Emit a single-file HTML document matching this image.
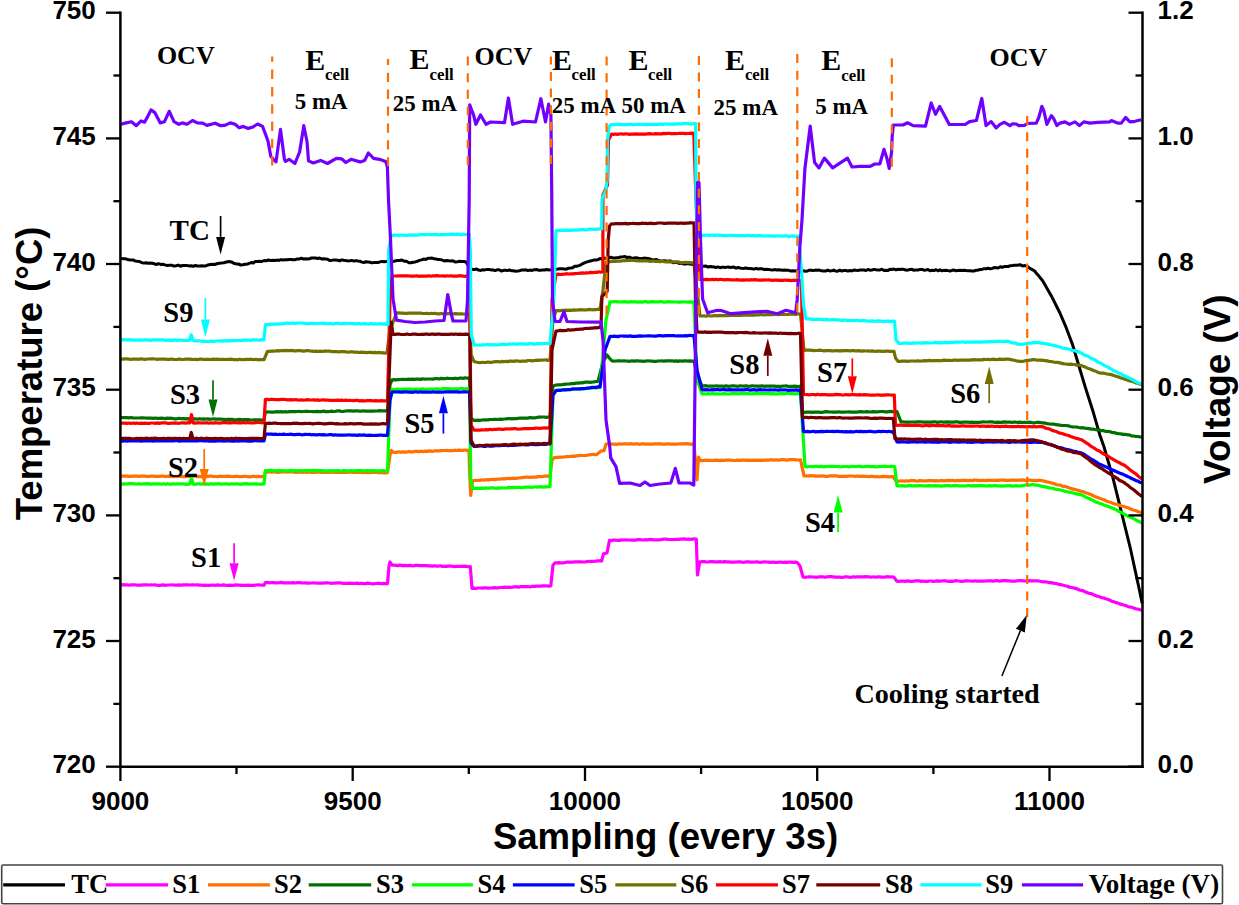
<!DOCTYPE html>
<html><head><meta charset="utf-8"><style>
html,body{margin:0;padding:0;background:#fff;}
body{width:1239px;height:905px;overflow:hidden;font-family:"Liberation Sans",sans-serif;}
svg{display:block;}
</style></head><body>
<svg width="1239" height="905" viewBox="0 0 1239 905">
<rect width="1239" height="905" fill="#ffffff"/>
<polyline points="121.0,258.6 123.5,258.7 126.0,258.8 128.4,259.8 130.9,259.9 133.1,259.9 135.2,261.0 137.4,261.3 139.5,261.5 141.7,262.6 143.8,263.1 145.9,262.7 148.0,263.3 150.1,263.0 152.2,263.2 154.3,263.8 156.4,264.5 158.5,263.7 160.6,264.4 162.8,264.2 165.0,264.9 167.2,265.5 169.5,265.2 171.7,265.2 173.9,266.1 176.1,265.7 178.2,265.1 180.4,266.2 182.6,265.5 184.7,265.4 186.8,265.4 189.0,265.9 191.1,265.7 193.2,266.3 195.3,265.5 197.4,266.0 199.5,266.1 201.6,265.7 203.7,266.0 205.8,265.9 208.0,264.9 210.2,264.5 212.4,264.3 214.7,264.5 216.9,263.8 219.1,263.3 221.3,263.1 223.9,262.7 226.5,262.0 229.1,261.5 231.4,261.9 233.7,263.3 236.1,263.9 238.4,264.0 240.7,265.0 242.8,264.7 244.9,264.2 247.0,264.2 249.1,263.5 251.2,262.5 253.3,263.0 255.4,261.4 257.5,261.5 259.7,261.2 261.9,261.5 264.1,260.5 266.4,260.7 268.6,260.0 270.8,260.6 273.0,260.2 275.0,260.5 277.0,260.1 279.1,260.4 281.1,259.6 283.1,260.0 285.1,259.8 287.2,259.7 289.2,259.4 291.2,259.4 293.2,259.7 295.2,259.7 297.3,259.0 299.3,259.1 301.3,258.2 303.4,259.0 305.4,258.8 307.4,259.1 309.4,258.8 311.4,258.0 313.5,258.0 315.5,258.0 317.5,258.5 319.5,258.0 321.5,258.9 323.6,258.8 325.6,259.0 327.6,259.2 329.6,260.4 331.6,260.4 333.6,259.9 335.6,260.1 337.7,260.3 339.7,260.9 341.7,259.9 343.7,260.3 345.7,260.5 347.8,260.9 349.8,260.8 351.8,260.4 353.8,261.1 355.8,260.6 357.9,261.0 359.9,261.2 361.9,262.1 363.9,262.5 365.9,261.7 368.0,262.0 370.0,262.3 372.0,262.9 374.0,262.4 376.0,262.5 378.0,262.5 380.1,261.9 382.1,261.4 384.1,261.7 386.1,261.5 388.1,261.5 390.4,261.4 392.7,261.6 395.0,261.0 397.2,260.6 399.5,260.5 401.8,260.1 404.2,261.2 406.5,261.3 408.9,262.7 411.0,262.8 413.1,262.2 415.3,261.9 417.4,261.3 419.5,260.4 421.6,259.9 423.7,259.1 425.9,259.4 428.0,258.2 430.1,258.3 432.1,258.1 434.1,258.7 436.1,259.0 438.2,259.6 440.2,259.6 442.2,260.0 444.2,261.0 446.4,260.6 448.6,260.7 450.7,261.1 452.9,260.7 455.1,261.9 457.3,261.7 459.5,261.2 461.6,261.4 463.8,261.6 466.0,261.9 470.0,268.5 472.5,269.5 474.5,269.4 476.6,269.1 478.6,270.1 480.7,270.4 482.7,269.8 484.8,269.9 486.8,269.4 488.9,269.5 490.9,269.9 493.0,269.8 495.0,270.6 497.1,269.8 499.1,269.7 501.2,271.0 503.2,270.5 505.3,270.1 507.3,270.6 509.4,270.0 511.4,270.7 513.5,270.7 515.6,271.2 517.6,271.0 519.7,270.7 521.8,270.0 523.9,270.1 525.9,269.8 528.0,270.5 530.1,270.1 532.2,270.4 534.2,269.7 536.3,269.5 538.4,270.2 540.5,270.3 542.5,270.1 544.6,270.0 546.7,269.5 548.9,269.9 551.1,269.7 553.3,269.0 555.5,269.4 557.7,269.1 559.9,268.7 562.1,268.7 564.3,268.9 566.5,269.2 568.6,268.2 570.6,268.0 572.7,267.7 574.8,266.3 576.8,266.2 578.9,265.6 580.9,264.8 583.0,263.5 585.1,262.7 587.2,261.9 589.4,261.3 591.5,260.7 593.6,260.1 595.8,260.0 597.9,259.7 600.0,258.6 602.1,258.9 604.2,258.2 606.3,258.3 608.4,258.3 610.5,257.2 612.5,257.8 614.6,258.0 616.7,257.7 618.8,257.5 620.9,256.9 623.0,256.8 625.1,256.6 627.2,257.5 629.2,257.1 631.3,257.9 633.4,258.3 635.5,257.7 637.5,257.9 639.6,258.7 641.7,258.6 643.8,258.1 645.8,258.2 647.9,258.4 650.0,259.0 652.1,259.8 654.2,260.0 656.3,259.4 658.3,260.5 660.4,261.0 662.5,260.9 664.6,260.7 666.7,261.3 668.8,261.0 670.9,261.1 672.9,262.7 675.0,262.5 677.1,262.6 679.2,263.4 681.3,263.1 683.4,263.9 685.5,264.1 687.5,263.6 689.6,263.9 691.7,264.3 693.8,264.8 695.8,264.8 697.9,265.7 700.0,265.6 702.0,266.3 704.0,266.3 706.0,266.0 708.0,267.1 710.0,266.5 712.0,266.7 714.0,267.0 716.0,267.5 718.0,266.9 720.0,267.7 722.0,267.2 724.0,267.3 726.0,267.4 728.0,266.9 730.0,267.5 732.0,267.3 734.0,267.1 736.0,268.2 738.0,267.5 740.0,268.0 742.0,268.4 744.0,268.3 746.0,268.1 748.0,268.4 750.0,268.5 752.0,268.7 754.1,269.1 756.1,268.3 758.2,269.0 760.2,268.7 762.3,268.8 764.3,269.5 766.3,269.3 768.4,269.4 770.4,269.8 772.5,270.1 774.5,269.6 776.6,269.9 778.6,269.8 780.7,270.0 782.7,270.3 784.7,270.1 786.8,270.3 788.8,270.3 790.9,271.0 792.9,270.8 795.0,271.1 797.0,270.7 799.0,271.3 801.1,270.4 803.1,270.8 805.2,271.2 807.2,271.1 809.2,270.2 811.3,270.2 813.3,270.6 815.3,270.1 817.4,270.3 819.4,270.1 821.5,270.8 823.5,271.0 825.5,271.1 827.6,270.1 829.6,270.9 831.7,270.8 833.7,270.1 835.7,271.1 837.8,271.2 839.8,270.2 841.8,271.1 843.9,270.4 845.9,270.5 848.0,271.1 850.0,270.5 852.0,270.9 854.0,270.0 856.0,270.3 858.0,270.4 860.0,270.1 862.0,269.9 864.0,270.0 866.0,270.5 868.0,269.5 870.0,270.2 872.0,270.0 874.0,269.4 876.0,269.8 878.0,270.1 880.0,269.9 882.0,269.3 884.0,270.5 886.0,270.2 888.0,270.4 890.0,269.2 892.0,269.4 894.0,269.0 896.0,269.9 898.0,269.2 900.0,269.5 902.0,269.1 904.0,269.5 906.0,270.2 908.0,270.1 910.0,269.4 912.0,269.3 914.0,270.3 916.0,269.9 918.0,270.1 920.0,269.4 922.0,269.4 924.0,270.2 926.0,269.9 928.0,269.5 930.0,270.7 932.0,270.3 934.0,270.6 936.0,269.7 938.0,270.8 940.0,269.8 942.0,270.8 944.0,270.4 946.0,270.2 948.0,270.6 950.0,271.1 952.0,270.3 954.0,270.1 956.0,270.7 958.0,270.4 960.0,270.2 962.0,270.4 964.0,270.2 966.0,270.5 968.0,270.7 970.0,270.7 972.0,271.0 974.0,271.1 976.0,270.2 978.1,270.2 980.1,269.5 982.1,269.4 984.1,268.7 986.1,268.8 988.2,268.2 990.2,268.9 992.2,268.4 994.2,267.6 996.2,267.7 998.2,268.0 1000.3,266.7 1002.3,267.3 1004.3,266.6 1006.3,266.4 1008.3,266.5 1010.4,265.7 1012.4,265.6 1014.4,265.3 1017.2,265.2 1020.0,264.7 1022.5,265.9 1024.9,265.6 1027.4,266.4 1029.8,268.4 1032.3,269.7 1034.7,271.0 1036.8,273.8 1038.9,276.1 1041.0,278.7 1043.1,281.5 1051.5,296.2 1059.9,313.0 1066.2,327.7 1072.5,344.5 1078.8,365.5 1085.1,386.6 1092.5,409.7 1099.8,434.9 1103.9,446.5 1112.8,477.4 1121.6,512.8 1130.4,548.5 1139.3,589.5 1142.2,603.5" fill="none" stroke="#000000" stroke-width="3.00" stroke-linejoin="round" stroke-linecap="butt"/>
<polyline points="121.0,585.0 123.0,584.7 125.0,584.8 127.0,584.8 129.1,585.2 131.1,584.9 133.1,584.8 135.1,584.8 137.1,585.2 139.1,585.2 141.1,585.1 143.2,584.9 145.2,584.9 147.2,584.9 149.2,585.0 151.2,584.8 153.2,585.0 155.2,584.9 157.3,585.3 159.3,585.3 161.3,585.1 163.3,584.9 165.3,585.3 167.3,585.0 169.3,585.0 171.4,584.8 173.4,585.0 175.4,585.1 177.4,585.1 179.4,584.9 181.4,585.1 183.4,584.8 185.5,584.9 187.5,584.8 189.5,585.0 191.5,584.8 193.5,584.8 195.5,585.0 197.5,584.9 199.5,585.2 201.6,585.1 203.6,585.3 205.6,585.2 207.6,585.3 209.6,585.4 211.6,585.1 213.6,585.0 215.7,585.4 217.7,584.9 219.7,585.3 221.7,585.2 223.7,584.9 225.7,585.3 227.7,585.4 229.8,585.2 231.8,585.3 233.8,585.3 235.8,584.9 237.8,585.2 239.8,585.2 241.8,585.4 243.9,585.4 245.9,585.4 247.9,585.2 249.9,585.4 251.9,585.3 253.9,585.3 255.9,585.0 258.0,584.9 260.0,585.0 262.0,585.1 264.0,585.2 265.4,582.6 267.4,582.4 269.4,582.8 271.4,582.7 273.4,582.7 275.4,582.8 277.4,582.8 279.4,582.7 281.4,582.4 283.4,582.9 285.4,582.9 287.4,582.8 289.4,582.8 291.4,582.9 293.4,582.6 295.4,583.0 297.4,582.7 299.4,582.6 301.4,582.8 303.4,583.0 305.4,582.8 307.4,583.1 309.4,583.2 311.4,583.0 313.4,582.9 315.4,583.0 317.4,583.1 319.4,583.2 321.4,583.1 323.4,583.2 325.4,582.8 327.5,582.9 329.5,583.0 331.5,583.3 333.5,583.0 335.5,583.2 337.5,582.9 339.5,582.9 341.5,583.1 343.5,583.3 345.5,583.4 347.5,583.4 349.5,583.2 351.5,583.3 353.5,583.3 355.5,583.3 357.5,583.1 359.5,583.6 361.5,583.2 363.5,583.7 365.5,583.7 367.5,583.1 369.5,583.4 371.5,583.7 373.5,583.8 375.5,583.5 377.5,583.4 379.5,583.4 381.5,583.8 383.5,583.4 385.5,583.6 387.5,583.6 389.0,566.0 390.0,562.0 392.0,565.2 394.0,565.0 396.0,565.3 398.0,565.6 400.0,565.1 402.0,565.6 404.0,565.4 406.1,565.7 408.1,565.6 410.1,565.4 412.1,565.8 414.1,565.6 416.1,565.3 418.1,565.4 420.1,565.7 422.1,565.7 424.1,565.7 426.1,565.6 428.1,565.8 430.1,565.8 432.2,566.1 434.2,565.7 436.2,566.1 438.2,566.2 440.2,565.8 442.2,566.4 444.2,566.3 446.2,566.4 448.2,566.1 450.2,566.2 452.2,566.2 454.2,566.6 456.2,566.4 458.3,566.3 460.3,566.4 462.3,566.3 464.3,566.2 466.3,566.3 468.3,566.8 470.3,566.6 472.0,588.4 474.0,588.2 476.0,588.5 478.1,588.0 480.1,588.0 482.1,588.1 484.1,587.8 486.1,587.9 488.2,588.1 490.2,588.0 492.2,587.9 494.2,587.7 496.2,587.8 498.3,587.8 500.3,587.5 502.3,587.5 504.3,587.1 506.3,587.4 508.4,587.2 510.4,587.3 512.4,587.2 514.4,586.9 516.5,586.7 518.5,587.1 520.5,586.6 522.5,586.7 524.5,586.6 526.6,586.5 528.6,586.7 530.6,586.8 532.6,586.3 534.6,586.4 536.7,586.1 538.7,586.2 540.7,586.1 542.7,585.9 544.7,585.8 546.8,585.8 548.8,586.1 550.8,585.8 553.0,565.0 555.0,562.9 557.0,562.8 559.1,562.6 561.1,562.9 563.1,562.9 565.1,562.5 567.2,562.2 569.2,562.1 571.2,562.0 573.2,562.1 575.3,561.8 577.3,561.8 579.3,561.8 581.3,561.9 583.4,562.0 585.4,561.8 587.4,561.5 589.4,561.4 591.5,561.4 593.5,561.3 595.5,561.2 597.5,560.9 599.6,560.9 601.6,561.0 603.5,553.9 607.0,553.0 609.5,540.3 611.5,540.6 613.5,540.0 615.6,540.2 617.6,540.3 619.6,540.4 621.6,539.9 623.6,540.0 625.6,539.9 627.7,540.0 629.7,540.0 631.7,540.2 633.7,540.1 635.7,540.1 637.8,539.6 639.8,539.6 641.8,539.9 643.8,540.0 645.8,539.7 647.9,539.8 649.9,539.4 651.9,539.6 653.9,539.9 655.9,539.8 657.9,539.8 660.0,539.8 662.0,539.4 664.0,539.2 666.0,539.2 668.0,539.4 670.1,539.5 672.1,539.6 674.1,539.5 676.1,539.4 678.1,539.4 680.2,539.2 682.2,539.2 684.2,538.9 686.2,539.3 688.2,539.0 690.2,539.3 692.3,539.1 694.3,538.9 696.3,539.0 697.5,575.0 699.0,566.0 700.0,561.8 702.0,561.6 704.0,561.7 706.1,561.9 708.1,562.0 710.1,561.6 712.1,561.6 714.1,561.9 716.2,561.9 718.2,561.8 720.2,561.7 722.2,562.0 724.2,561.6 726.3,561.8 728.3,561.9 730.3,562.2 732.3,562.1 734.4,562.2 736.4,562.0 738.4,561.8 740.4,561.9 742.4,562.3 744.5,562.2 746.5,561.9 748.5,561.8 750.5,562.1 752.5,562.2 754.6,562.0 756.6,561.9 758.6,562.2 760.6,562.4 762.6,562.0 764.7,561.9 766.7,562.0 768.7,562.1 770.7,562.3 772.8,562.0 774.8,562.4 776.8,562.3 778.8,562.2 780.8,562.0 782.9,562.5 784.9,562.1 786.9,562.4 788.9,562.1 790.9,562.1 793.0,562.4 795.0,562.2 797.0,562.3 800.0,566.0 803.0,577.0 805.0,577.3 807.0,577.0 809.0,576.8 811.1,576.8 813.1,577.0 815.1,577.1 817.1,577.3 819.1,576.8 821.1,576.9 823.2,576.8 825.2,577.3 827.2,576.8 829.2,576.7 831.2,576.7 833.2,576.9 835.2,577.2 837.3,577.2 839.3,577.1 841.3,577.3 843.3,577.3 845.3,576.9 847.3,576.8 849.4,577.3 851.4,577.1 853.4,576.7 855.4,577.1 857.4,576.9 859.4,576.9 861.5,576.9 863.5,576.8 865.5,576.7 867.5,576.9 869.5,576.9 871.5,577.3 873.5,576.8 875.6,577.3 877.6,576.8 879.6,576.9 881.6,577.2 883.6,577.2 885.6,577.0 887.7,576.7 889.7,577.0 891.7,576.9 893.7,577.0 897.0,581.2 899.0,581.4 901.0,581.0 903.0,581.1 905.0,581.4 907.0,580.9 909.1,581.1 911.1,581.3 913.1,581.3 915.1,580.9 917.1,580.9 919.1,580.9 921.1,581.4 923.1,581.0 925.1,581.3 927.1,581.4 929.2,581.0 931.2,581.0 933.2,581.4 935.2,581.2 937.2,580.9 939.2,581.2 941.2,581.0 943.2,580.9 945.2,580.8 947.2,581.2 949.3,581.3 951.3,581.1 953.3,581.3 955.3,580.7 957.3,580.9 959.3,581.0 961.3,581.3 963.3,581.3 965.3,580.9 967.4,580.9 969.4,581.0 971.4,581.0 973.4,581.2 975.4,580.8 977.4,581.2 979.4,581.1 981.4,581.2 983.4,581.1 985.4,581.0 987.5,580.8 989.5,580.8 991.5,580.8 993.5,581.1 995.5,580.7 997.5,580.7 999.5,581.1 1001.5,580.8 1003.5,580.6 1005.5,580.6 1007.6,580.9 1009.6,580.8 1011.6,581.2 1013.6,581.1 1015.6,581.2 1017.6,580.7 1019.6,580.6 1021.6,580.6 1023.6,580.8 1025.6,581.0 1027.7,580.8 1029.7,580.7 1031.7,580.8 1033.7,580.9 1035.7,580.9 1037.7,580.8 1039.9,581.3 1042.1,581.7 1044.3,581.9 1046.5,581.9 1048.7,582.6 1050.9,582.6 1053.1,583.1 1055.3,583.4 1057.3,583.8 1059.3,584.6 1061.3,584.7 1063.3,585.3 1065.3,585.8 1067.4,586.2 1069.4,587.2 1071.4,587.5 1073.4,587.9 1075.4,588.4 1077.4,589.0 1079.4,590.0 1081.4,590.4 1083.4,590.9 1085.4,592.0 1087.4,592.6 1089.5,593.5 1091.5,593.7 1093.5,594.6 1095.5,595.5 1097.5,596.2 1099.5,596.7 1101.5,597.6 1103.5,597.8 1105.5,598.7 1107.5,599.3 1109.5,600.0 1111.6,601.2 1113.6,601.6 1115.6,602.6 1117.6,602.9 1119.6,603.9 1121.6,604.4 1123.6,605.0 1125.7,605.5 1127.7,606.4 1129.8,607.1 1131.8,607.2 1133.8,608.1 1135.9,608.7 1137.9,609.1 1140.0,609.8 1142.0,610.5" fill="none" stroke="#ff00ff" stroke-width="3.20" stroke-linejoin="round" stroke-linecap="butt"/>
<polyline points="121.0,476.3 123.0,476.1 125.0,476.1 127.0,476.2 129.1,476.4 131.1,476.4 133.1,476.1 135.1,476.0 137.1,476.2 139.1,476.4 141.1,476.1 143.2,476.2 145.2,476.2 147.2,476.5 149.2,476.4 151.2,476.1 153.2,476.1 155.2,476.3 157.3,476.4 159.3,476.4 161.3,476.1 163.3,476.2 165.3,476.5 167.3,476.3 169.3,476.2 171.4,476.3 173.4,476.6 175.4,476.3 177.4,476.4 179.4,476.3 181.4,476.3 183.4,476.6 185.5,476.7 187.5,476.3 189.5,476.2 191.5,476.5 193.5,476.2 195.5,476.1 197.5,476.6 199.5,476.4 201.6,476.6 203.6,476.4 205.6,476.6 207.6,476.4 209.6,476.2 211.6,476.1 213.6,476.5 215.7,476.5 217.7,476.7 219.7,476.2 221.7,476.5 223.7,476.4 225.7,476.4 227.7,476.2 229.8,476.3 231.8,476.5 233.8,476.7 235.8,476.2 237.8,476.5 239.8,476.6 241.8,476.7 243.9,476.3 245.9,476.3 247.9,476.7 249.9,476.8 251.9,476.5 253.9,476.2 255.9,476.7 258.0,476.4 260.0,476.7 262.0,476.6 264.0,476.5 265.4,472.0 267.4,472.2 269.4,471.8 271.4,472.2 273.4,471.9 275.4,472.0 277.4,472.3 279.4,472.3 281.4,471.9 283.4,471.9 285.4,472.0 287.4,472.1 289.4,472.0 291.4,471.9 293.4,472.0 295.4,472.3 297.4,472.4 299.4,471.9 301.4,472.2 303.4,472.3 305.4,471.9 307.4,472.4 309.4,472.0 311.4,472.3 313.4,472.3 315.4,472.3 317.4,472.1 319.4,472.2 321.4,472.3 323.4,472.2 325.4,472.4 327.5,472.3 329.5,472.3 331.5,472.0 333.5,472.4 335.5,472.3 337.5,472.2 339.5,472.5 341.5,472.5 343.5,472.4 345.5,472.2 347.5,472.4 349.5,472.2 351.5,472.2 353.5,472.4 355.5,472.2 357.5,472.4 359.5,472.5 361.5,472.2 363.5,472.6 365.5,472.2 367.5,472.6 369.5,472.7 371.5,472.5 373.5,472.3 375.5,472.5 377.5,472.5 379.5,472.8 381.5,472.4 383.5,472.8 385.5,472.9 387.5,472.6 390.0,455.0 391.5,450.5 393.0,452.2 395.0,452.3 397.0,452.3 399.0,451.8 401.0,452.3 403.0,451.9 405.0,452.1 407.0,452.0 409.0,451.5 411.0,451.9 413.0,451.9 415.0,451.3 417.0,451.4 419.0,451.6 421.0,451.2 423.0,451.6 425.0,451.1 427.0,451.4 429.0,450.9 431.0,451.1 433.0,451.3 435.0,450.8 437.0,450.8 439.0,450.9 441.0,450.7 443.0,450.5 445.0,450.5 447.0,450.4 449.0,450.8 451.0,450.6 453.0,450.7 455.0,450.2 457.0,450.5 459.0,450.1 461.0,450.3 463.0,450.3 465.0,450.0 467.0,450.3 469.0,450.0 469.5,470.0 470.7,495.5 472.5,481.0 474.0,480.5 476.0,480.4 478.0,480.3 480.0,480.4 482.0,479.8 484.0,480.2 486.0,479.9 488.0,479.6 490.0,479.8 492.0,479.3 494.0,479.6 496.0,479.3 498.0,479.0 500.0,479.2 502.0,478.8 504.0,478.6 506.0,478.8 508.0,478.3 510.0,478.6 512.0,478.2 514.0,478.3 516.0,478.4 518.0,478.0 520.0,477.9 522.0,477.6 524.0,477.3 526.0,477.2 528.0,477.2 530.0,477.3 532.0,477.1 534.0,477.0 536.0,477.1 538.0,476.6 540.0,476.5 542.0,476.7 544.0,476.2 546.0,476.0 548.0,476.1 550.0,476.1 552.0,460.0 554.0,457.8 556.0,457.4 558.1,457.4 560.1,457.1 562.2,457.2 564.2,457.0 566.3,456.6 568.3,456.7 570.4,456.5 572.4,456.1 574.5,456.4 576.5,455.8 578.6,455.6 580.6,455.4 582.7,455.5 584.7,455.5 586.8,455.3 588.8,454.9 590.9,454.7 592.9,454.3 595.0,454.6 597.0,454.3 601.0,451.0 604.0,450.7 606.0,444.0 608.0,444.0 610.0,443.9 612.0,444.1 614.0,444.0 616.0,444.3 618.0,444.1 620.0,443.8 622.0,444.2 624.0,443.7 626.0,444.0 628.0,443.9 630.0,443.8 632.0,443.7 634.0,444.2 636.0,443.7 638.0,444.0 640.0,444.3 642.0,443.8 644.0,443.8 646.0,444.1 648.0,444.0 650.0,444.1 652.0,444.2 654.0,443.8 656.0,443.9 658.0,443.9 660.0,443.7 662.0,444.2 664.0,444.2 666.0,444.1 668.0,443.7 670.0,444.2 672.0,444.1 674.0,444.0 676.0,444.1 678.0,444.0 680.0,443.8 682.0,443.8 684.0,443.8 686.0,443.7 688.0,443.9 690.0,444.1 692.0,444.1 694.0,444.0 697.0,480.0 698.5,457.0 700.0,460.4 702.0,460.6 704.0,460.5 706.0,460.2 708.0,460.4 710.0,460.3 712.1,460.5 714.1,460.3 716.1,460.2 718.1,460.4 720.1,460.6 722.1,460.1 724.1,460.5 726.1,460.0 728.1,460.1 730.1,460.1 732.2,460.4 734.2,460.5 736.2,460.4 738.2,460.1 740.2,460.4 742.2,460.1 744.2,460.0 746.2,460.4 748.2,460.2 750.2,460.3 752.3,460.2 754.3,460.4 756.3,460.1 758.3,460.3 760.3,460.2 762.3,460.3 764.3,460.0 766.3,460.2 768.3,460.1 770.4,459.9 772.4,459.9 774.4,460.1 776.4,459.8 778.4,460.3 780.4,459.8 782.4,459.7 784.4,459.7 786.4,460.2 788.4,459.9 790.5,459.7 792.5,459.7 794.5,459.7 796.5,460.0 798.5,460.0 800.5,459.9 804.0,475.8 806.0,475.9 808.0,476.0 810.1,475.6 812.1,475.9 814.1,475.8 816.1,476.1 818.2,476.1 820.2,476.2 822.2,475.7 824.2,476.2 826.2,476.3 828.3,476.3 830.3,475.8 832.3,475.9 834.3,475.9 836.4,475.8 838.4,476.4 840.4,476.4 842.4,476.3 844.5,476.4 846.5,476.3 848.5,476.1 850.5,476.0 852.5,476.0 854.6,476.5 856.6,476.2 858.6,476.2 860.6,476.3 862.7,476.1 864.7,476.3 866.7,476.3 868.7,476.6 870.8,476.4 872.8,476.4 874.8,476.8 876.8,476.5 878.8,476.8 880.9,476.6 882.9,476.3 884.9,476.6 886.9,476.6 889.0,476.8 891.0,476.6 893.0,476.7 896.0,481.0 898.0,481.1 900.0,481.0 902.0,480.8 904.0,481.2 906.0,480.7 908.0,481.1 910.0,480.7 912.0,480.6 914.0,480.7 916.0,481.0 918.0,481.1 920.0,480.5 922.0,480.8 924.0,480.8 926.0,481.0 928.0,480.6 930.0,480.7 932.0,480.6 934.0,480.9 936.0,480.6 938.0,481.0 940.0,480.6 942.0,480.5 944.0,480.8 946.0,480.6 948.0,480.4 950.0,480.7 952.0,480.3 954.0,480.8 956.0,480.7 958.0,480.7 960.0,480.6 962.0,480.4 964.0,480.4 966.0,480.4 968.0,480.7 970.0,480.2 972.0,480.7 974.0,480.1 976.0,480.2 978.0,480.3 980.0,480.6 982.0,480.4 984.0,480.3 986.0,480.6 988.0,480.2 990.0,480.3 992.0,480.3 994.0,480.4 996.0,480.4 998.0,480.3 1000.0,480.2 1002.0,480.1 1004.0,480.0 1006.0,480.4 1008.0,480.3 1010.0,480.3 1012.0,480.0 1014.0,480.1 1016.0,480.3 1018.0,480.2 1020.0,480.1 1022.0,479.9 1024.0,480.2 1026.0,480.5 1028.0,480.2 1030.0,480.2 1032.1,480.3 1034.1,480.6 1036.1,480.7 1038.1,480.4 1040.1,480.4 1042.1,480.7 1044.1,481.1 1046.1,481.6 1048.1,482.2 1050.1,482.5 1052.1,483.1 1054.2,483.6 1056.2,484.5 1058.2,484.9 1060.2,485.0 1062.2,486.1 1064.2,486.3 1066.2,486.7 1068.2,487.4 1070.2,488.4 1072.2,488.9 1074.2,489.4 1076.3,489.9 1078.3,490.3 1080.3,491.2 1082.3,491.5 1084.3,492.1 1086.3,492.9 1088.3,493.6 1090.3,494.2 1092.3,495.2 1094.3,496.3 1096.3,497.0 1098.3,497.7 1100.3,498.6 1102.3,499.3 1104.3,499.9 1106.3,501.0 1108.3,501.7 1110.5,502.3 1112.7,503.2 1114.9,504.0 1117.2,504.4 1119.4,505.2 1121.6,506.0 1123.8,506.5 1126.0,507.2 1128.0,507.7 1130.0,508.7 1132.0,509.5 1134.0,510.2 1136.0,510.8 1138.0,511.6 1140.0,512.2 1142.0,512.8" fill="none" stroke="#ff7000" stroke-width="3.20" stroke-linejoin="round" stroke-linecap="butt"/>
<polyline points="121.0,417.6 123.0,417.7 125.0,417.6 127.0,417.6 129.1,417.8 131.1,417.5 133.1,417.8 135.1,418.0 137.1,418.0 139.1,418.0 141.1,417.8 143.2,417.9 145.2,418.0 147.2,418.1 149.2,418.0 151.2,418.2 153.2,418.4 155.2,418.0 157.3,418.3 159.3,418.4 161.3,418.2 163.3,418.3 165.3,418.6 167.3,418.1 169.3,418.4 171.4,418.2 173.4,418.6 175.4,418.8 177.4,418.6 179.4,418.3 181.4,418.7 183.4,418.7 185.5,418.8 187.5,418.7 189.5,418.8 191.5,419.0 193.5,418.8 195.5,418.8 197.5,419.2 199.5,418.7 201.6,419.1 203.6,418.9 205.6,419.2 207.6,418.8 209.6,419.4 211.6,419.0 213.6,418.9 215.7,419.1 217.7,419.2 219.7,419.0 221.7,419.2 223.7,419.3 225.7,419.5 227.7,419.3 229.8,419.3 231.8,419.3 233.8,419.6 235.8,419.8 237.8,419.6 239.8,419.4 241.8,419.8 243.9,419.6 245.9,419.5 247.9,419.5 249.9,419.9 251.9,420.0 253.9,419.9 255.9,419.8 258.0,419.9 260.0,419.8 262.0,420.2 264.0,420.0 265.4,412.0 267.4,411.9 269.4,412.0 271.4,412.1 273.4,412.1 275.4,411.9 277.4,411.7 279.4,411.9 281.4,411.6 283.4,412.0 285.4,411.7 287.4,412.0 289.4,411.6 291.4,411.6 293.4,411.6 295.4,411.6 297.4,411.5 299.4,411.3 301.4,411.7 303.4,411.5 305.4,411.4 307.4,411.4 309.4,411.5 311.4,411.5 313.4,411.6 315.4,411.6 317.4,411.4 319.4,411.7 321.4,411.6 323.4,411.1 325.4,411.6 327.5,411.6 329.5,411.5 331.5,411.1 333.5,411.5 335.5,411.3 337.5,410.9 339.5,410.9 341.5,411.5 343.5,411.3 345.5,411.0 347.5,410.9 349.5,410.9 351.5,410.9 353.5,411.2 355.5,410.9 357.5,410.8 359.5,411.2 361.5,411.2 363.5,410.8 365.5,411.2 367.5,411.0 369.5,411.1 371.5,411.0 373.5,411.1 375.5,411.0 377.5,411.0 379.5,410.6 381.5,410.9 383.5,410.8 385.5,410.9 387.5,410.7 390.0,385.0 392.0,379.8 394.0,379.7 396.1,379.9 398.1,379.7 400.2,379.5 402.2,379.4 404.2,379.3 406.3,379.5 408.3,379.2 410.4,379.4 412.4,379.1 414.4,379.3 416.5,379.2 418.5,379.2 420.6,379.4 422.6,378.8 424.6,379.2 426.7,379.0 428.7,379.0 430.8,379.0 432.8,379.1 434.8,378.7 436.9,378.7 438.9,379.0 440.9,378.4 443.0,378.7 445.0,378.7 447.1,378.2 449.1,378.5 451.1,378.5 453.2,378.6 455.2,378.2 457.3,378.6 459.3,378.2 461.3,378.2 463.4,378.4 465.4,377.8 467.5,378.2 469.5,378.0 471.0,418.0 474.0,420.4 476.0,420.4 478.0,420.1 480.0,420.3 482.0,420.0 484.0,419.9 486.0,419.9 488.0,419.9 490.0,419.5 492.0,419.5 494.0,419.4 496.0,419.4 498.0,419.5 500.0,419.1 502.0,419.3 504.0,419.0 506.0,418.9 508.0,418.7 510.0,418.7 512.0,418.9 514.0,418.7 516.0,418.6 518.0,418.3 520.0,418.2 522.0,418.1 524.0,418.1 526.0,418.1 528.0,418.1 530.0,417.5 532.0,417.9 534.0,417.9 536.0,417.6 538.0,417.2 540.0,417.2 542.0,417.0 544.0,417.0 546.0,417.3 548.0,417.1 550.0,416.9 553.0,386.0 556.0,385.0 558.0,384.9 560.0,384.8 562.0,384.7 564.0,384.4 566.0,384.2 568.0,384.0 570.0,383.9 572.0,383.7 574.0,383.6 576.0,383.1 578.0,383.2 580.0,382.9 582.0,382.9 584.0,382.4 586.0,382.2 588.0,382.0 590.0,382.3 592.0,382.2 594.0,381.8 596.0,381.5 598.0,381.4 603.0,362.0 607.0,355.0 609.5,358.2 612.0,361.0 614.0,361.2 616.0,361.0 618.0,360.9 620.0,360.9 622.0,361.0 624.0,360.9 626.0,361.0 628.0,361.1 630.0,361.3 632.0,360.8 634.0,361.1 636.0,360.8 638.0,360.8 640.0,361.2 642.0,361.1 644.0,361.3 646.0,361.0 648.0,360.8 650.0,361.0 652.0,361.1 654.0,361.3 656.0,361.3 658.0,361.0 660.0,361.0 662.0,360.8 664.0,361.2 666.0,360.9 668.0,360.9 670.0,360.8 672.0,360.8 674.0,361.2 676.0,360.9 678.0,361.4 680.0,360.8 682.0,361.3 684.0,360.9 686.0,360.8 688.0,361.2 690.0,360.9 692.0,361.2 694.0,361.1 697.0,375.0 702.0,386.0 704.0,385.8 706.0,385.7 708.0,386.2 710.0,386.1 712.1,386.2 714.1,386.2 716.1,385.8 718.1,386.1 720.1,386.2 722.1,386.0 724.1,386.3 726.1,385.9 728.1,386.3 730.1,386.2 732.2,385.8 734.2,385.8 736.2,386.2 738.2,386.3 740.2,385.8 742.2,386.0 744.2,386.2 746.2,385.9 748.2,386.3 750.2,386.1 752.3,385.8 754.3,386.0 756.3,386.2 758.3,386.1 760.3,386.2 762.3,385.9 764.3,386.3 766.3,386.0 768.3,386.2 770.3,386.2 772.4,386.1 774.4,386.1 776.4,386.3 778.4,386.4 780.4,386.3 782.4,386.2 784.4,386.0 786.4,385.9 788.4,386.5 790.4,386.3 792.5,386.4 794.5,386.1 796.5,386.3 798.5,386.5 800.5,386.2 802.5,412.2 804.5,412.4 806.5,412.2 808.5,412.0 810.5,412.1 812.6,412.4 814.6,412.0 816.6,412.2 818.6,412.2 820.6,412.3 822.6,412.3 824.6,411.9 826.6,411.7 828.6,411.9 830.6,412.0 832.7,412.1 834.7,412.2 836.7,412.2 838.7,411.7 840.7,412.2 842.7,412.1 844.7,412.2 846.7,412.0 848.7,411.8 850.8,412.1 852.8,412.1 854.8,412.0 856.8,412.1 858.8,411.8 860.8,411.6 862.8,411.8 864.8,412.0 866.8,411.6 868.9,411.9 870.9,412.0 872.9,411.6 874.9,411.8 876.9,411.8 878.9,411.7 880.9,411.5 882.9,411.5 884.9,411.8 886.9,411.8 889.0,411.6 891.0,411.4 893.0,411.8 895.0,411.8 897.0,411.6 901.0,422.0 903.0,421.8 905.0,422.1 907.1,422.2 909.1,422.2 911.1,422.0 913.1,422.0 915.1,422.1 917.1,421.8 919.2,421.8 921.2,421.8 923.2,422.2 925.2,422.0 927.2,422.1 929.2,422.0 931.3,422.1 933.3,421.8 935.3,421.8 937.3,422.4 939.3,422.0 941.3,421.8 943.4,422.2 945.4,422.2 947.4,421.9 949.4,422.1 951.4,422.0 953.4,422.1 955.5,421.8 957.5,421.8 959.5,422.4 961.5,422.3 963.5,422.1 965.5,422.1 967.6,422.0 969.6,422.3 971.6,422.1 973.6,422.4 975.6,422.3 977.6,422.3 979.7,422.4 981.7,422.0 983.7,421.9 985.7,422.0 987.7,422.0 989.7,421.9 991.8,421.9 993.8,422.2 995.8,422.4 997.8,422.1 999.8,422.4 1001.8,422.4 1003.9,421.9 1005.9,422.2 1007.9,422.1 1009.9,422.0 1011.9,422.5 1013.9,422.0 1016.0,422.2 1018.0,422.3 1020.0,422.2 1022.1,422.5 1024.2,422.4 1026.3,422.3 1028.4,422.4 1030.5,422.2 1032.6,422.8 1034.7,422.8 1036.8,422.4 1038.9,422.4 1041.0,422.7 1043.1,422.8 1045.2,423.1 1047.3,423.7 1049.4,424.0 1051.5,424.2 1053.7,424.0 1055.8,424.7 1057.9,424.9 1060.0,425.1 1062.1,425.5 1064.2,425.5 1066.3,425.5 1068.3,425.8 1070.4,426.5 1072.5,426.9 1074.5,427.0 1076.6,427.0 1078.7,427.5 1080.8,427.9 1082.8,427.7 1084.9,428.1 1087.0,428.4 1089.0,428.6 1091.1,429.1 1093.2,429.2 1095.2,429.5 1097.3,429.9 1099.4,430.0 1101.6,430.7 1103.7,430.7 1105.8,431.4 1108.0,431.5 1110.1,431.7 1112.3,432.6 1114.4,432.6 1116.5,433.4 1118.7,433.7 1120.8,433.8 1122.9,434.4 1125.0,434.3 1127.2,434.8 1129.3,434.9 1131.4,435.8 1133.5,436.0 1135.6,436.3 1137.8,436.5 1139.9,436.8 1142.0,437.2" fill="none" stroke="#007000" stroke-width="3.20" stroke-linejoin="round" stroke-linecap="butt"/>
<polyline points="121.0,483.9 123.0,484.1 125.0,483.9 127.1,484.0 129.1,483.7 131.1,483.7 133.1,483.7 135.2,484.0 137.2,484.0 139.2,483.7 141.2,484.2 143.3,483.8 145.3,483.9 147.3,483.7 149.3,483.8 151.4,484.1 153.4,483.8 155.4,483.8 157.4,483.9 159.4,483.8 161.5,484.2 163.5,483.7 165.5,484.3 167.5,483.7 169.6,484.2 171.6,484.1 173.6,483.8 175.6,484.0 177.7,483.9 179.7,483.8 181.7,483.8 183.7,483.9 185.8,484.3 187.8,484.3 189.8,484.0 191.5,478.0 193.2,484.0 195.2,484.3 197.2,483.8 199.3,483.9 201.3,484.2 203.3,483.7 205.3,484.1 207.4,483.9 209.4,484.3 211.4,483.7 213.4,484.2 215.5,483.9 217.5,483.8 219.5,483.7 221.5,484.2 223.5,484.0 225.6,483.8 227.6,484.0 229.6,484.2 231.6,483.8 233.7,484.0 235.7,483.8 237.7,483.8 239.7,484.2 241.7,484.1 243.8,483.8 245.8,483.7 247.8,483.8 249.8,484.1 251.9,484.0 253.9,483.9 255.9,483.8 257.9,484.1 260.0,484.1 262.0,484.2 264.0,484.0 265.4,470.6 267.4,470.7 269.4,470.4 271.4,470.3 273.4,470.8 275.4,470.6 277.4,470.8 279.4,470.4 281.4,470.8 283.4,470.5 285.4,470.8 287.4,470.9 289.4,470.6 291.4,470.4 293.4,470.9 295.4,470.6 297.4,470.9 299.4,470.5 301.4,470.5 303.4,470.9 305.4,470.6 307.4,470.5 309.4,470.6 311.4,470.7 313.4,470.4 315.4,470.7 317.4,470.7 319.4,470.7 321.4,470.5 323.4,470.8 325.4,470.9 327.5,470.9 329.5,470.6 331.5,470.8 333.5,470.6 335.5,470.9 337.5,470.5 339.5,470.9 341.5,471.0 343.5,470.7 345.5,470.7 347.5,470.8 349.5,470.8 351.5,470.5 353.5,471.0 355.5,470.6 357.5,470.6 359.5,470.5 361.5,470.6 363.5,471.0 365.5,470.5 367.5,470.5 369.5,470.9 371.5,470.6 373.5,470.5 375.5,470.8 377.5,470.8 379.5,470.8 381.5,470.9 383.5,470.6 385.5,471.0 387.5,470.8 390.0,400.0 392.0,389.5 394.0,389.6 396.1,389.2 398.1,389.2 400.2,389.4 402.2,389.4 404.2,389.2 406.3,389.1 408.3,389.2 410.4,389.0 412.4,389.3 414.4,389.4 416.5,389.0 418.5,389.2 420.6,389.3 422.6,388.9 424.6,389.3 426.7,389.3 428.7,389.0 430.8,389.0 432.8,389.2 434.8,389.0 436.9,388.9 438.9,389.2 440.9,389.0 443.0,388.7 445.0,388.7 447.1,388.7 449.1,388.7 451.1,389.0 453.2,388.9 455.2,388.9 457.3,388.8 459.3,388.8 461.3,388.3 463.4,388.6 465.4,388.8 467.5,388.8 469.5,388.5 470.8,482.0 473.0,488.5 475.0,488.3 477.1,488.4 479.1,488.4 481.1,488.2 483.1,488.3 485.2,488.0 487.2,488.1 489.2,488.1 491.2,487.8 493.3,487.8 495.3,488.3 497.3,488.1 499.3,488.1 501.4,487.9 503.4,488.0 505.4,488.0 507.4,487.9 509.5,487.4 511.5,487.7 513.5,487.4 515.6,487.6 517.6,487.3 519.6,487.4 521.6,487.6 523.7,487.4 525.7,487.1 527.7,487.2 529.7,487.1 531.8,487.4 533.8,487.0 535.8,486.9 537.8,487.1 539.9,486.7 541.9,486.9 543.9,487.1 545.9,486.8 548.0,486.6 550.0,486.7 553.0,395.0 556.0,390.5 558.0,390.3 560.0,390.2 562.0,389.9 564.0,389.7 566.0,389.6 568.0,389.6 570.0,389.5 572.0,389.3 574.0,389.1 576.0,388.9 578.0,389.0 580.0,389.1 582.0,388.8 584.0,388.6 586.0,388.5 588.0,388.1 590.0,388.3 592.0,388.0 594.0,387.9 596.0,387.8 598.0,387.6 600.0,387.5 606.0,320.0 610.0,301.9 612.0,301.8 614.0,301.7 616.0,301.7 618.0,301.9 620.0,301.8 622.0,302.0 624.0,301.6 626.0,301.8 628.0,302.1 630.0,301.7 632.0,301.9 634.0,301.9 636.0,301.8 638.0,302.2 640.0,301.8 642.0,302.1 644.0,301.7 646.0,301.6 648.0,302.1 650.0,301.9 652.0,301.6 654.0,301.8 656.0,301.9 658.0,302.0 660.0,301.7 662.0,301.7 664.0,302.2 666.0,302.0 668.0,301.7 670.0,301.8 672.0,301.8 674.0,302.0 676.0,302.0 678.0,302.1 680.0,302.1 682.0,301.9 684.0,302.0 686.0,302.0 688.0,302.1 690.0,301.9 692.0,302.1 694.0,301.9 697.0,380.0 702.0,393.8 704.0,393.9 706.0,394.0 708.0,393.6 710.0,394.0 712.1,393.5 714.1,393.9 716.1,393.8 718.1,393.8 720.1,394.0 722.1,393.8 724.1,393.7 726.1,393.9 728.1,394.0 730.1,393.8 732.2,393.7 734.2,393.7 736.2,393.7 738.2,393.9 740.2,393.6 742.2,393.7 744.2,393.7 746.2,393.6 748.2,393.6 750.2,393.9 752.3,393.9 754.3,393.7 756.3,393.7 758.3,393.5 760.3,393.6 762.3,393.5 764.3,393.7 766.3,393.7 768.3,393.4 770.3,393.9 772.4,393.6 774.4,393.9 776.4,393.9 778.4,393.9 780.4,393.5 782.4,393.6 784.4,393.9 786.4,393.3 788.4,393.4 790.4,393.7 792.5,393.6 794.5,393.9 796.5,393.8 798.5,393.6 800.5,393.6 805.0,466.5 807.0,466.8 809.1,466.5 811.1,466.5 813.2,466.6 815.2,466.4 817.2,466.4 819.3,466.6 821.3,466.4 823.3,466.8 825.4,466.6 827.4,466.5 829.5,466.3 831.5,466.4 833.5,466.4 835.6,466.5 837.6,466.5 839.7,466.7 841.7,466.8 843.7,466.5 845.8,466.5 847.8,466.6 849.9,466.8 851.9,466.4 853.9,466.5 856.0,466.7 858.0,466.3 860.0,466.4 862.1,466.8 864.1,466.7 866.2,466.5 868.2,466.3 870.2,466.7 872.3,466.6 874.3,466.7 876.4,466.8 878.4,466.7 880.4,466.5 882.5,466.3 884.5,466.4 886.5,466.5 888.6,466.5 890.6,466.3 892.7,466.3 894.7,466.5 897.0,485.8 899.0,485.9 901.0,485.9 903.0,485.7 905.1,486.1 907.1,485.9 909.1,485.5 911.1,485.7 913.1,486.0 915.1,485.7 917.2,485.9 919.2,485.5 921.2,485.7 923.2,486.0 925.2,485.9 927.2,485.9 929.3,485.6 931.3,485.8 933.3,485.8 935.3,485.7 937.3,485.9 939.3,485.8 941.4,486.1 943.4,485.8 945.4,485.7 947.4,485.6 949.4,485.6 951.4,486.0 953.5,485.6 955.5,485.6 957.5,485.6 959.5,485.8 961.5,486.0 963.5,485.9 965.6,486.0 967.6,485.5 969.6,485.5 971.6,486.0 973.6,485.7 975.6,485.9 977.7,485.7 979.7,485.6 981.7,485.7 983.7,485.6 985.7,486.0 987.7,485.8 989.8,485.7 991.8,485.8 993.8,485.7 995.8,485.5 997.8,486.0 999.8,485.8 1001.9,486.1 1003.9,485.8 1005.9,485.9 1007.9,485.6 1009.9,485.5 1011.9,486.1 1014.0,486.0 1016.0,485.7 1018.0,486.0 1020.0,485.8 1022.2,485.8 1024.4,485.2 1026.7,485.2 1028.9,485.2 1031.1,484.7 1033.3,484.5 1035.5,485.2 1037.7,485.2 1039.9,485.8 1042.1,486.4 1044.3,486.6 1046.5,487.1 1048.7,487.8 1050.9,488.0 1053.1,488.5 1055.1,489.1 1057.2,489.3 1059.2,489.7 1061.3,490.3 1063.3,490.7 1065.4,491.6 1067.4,491.7 1069.5,492.3 1071.5,492.5 1073.6,493.2 1075.6,493.6 1077.7,494.1 1079.8,494.4 1081.8,495.1 1084.0,496.0 1086.2,497.5 1088.4,498.3 1090.7,499.3 1092.9,500.4 1095.1,501.7 1097.3,502.4 1099.5,503.2 1101.7,503.9 1103.9,505.1 1106.2,505.7 1108.4,506.4 1110.6,507.6 1112.8,508.3 1115.0,509.2 1117.2,510.4 1119.4,511.8 1121.6,512.5 1123.8,513.8 1126.0,515.2 1128.2,516.3 1130.4,517.2 1132.7,518.2 1135.0,519.4 1137.4,520.8 1139.7,521.8 1142.0,523.0" fill="none" stroke="#00ff00" stroke-width="3.20" stroke-linejoin="round" stroke-linecap="butt"/>
<polyline points="121.0,440.8 123.0,441.1 125.0,440.6 127.0,441.1 129.1,440.8 131.1,440.7 133.1,440.8 135.1,440.6 137.1,440.9 139.1,440.7 141.1,441.1 143.2,440.9 145.2,440.8 147.2,440.7 149.2,440.9 151.2,440.7 153.2,441.1 155.2,440.6 157.3,440.9 159.3,440.9 161.3,440.7 163.3,441.0 165.3,440.8 167.3,441.0 169.3,440.9 171.4,440.8 173.4,440.8 175.4,440.6 177.4,440.7 179.4,441.1 181.4,440.8 183.4,441.0 185.5,440.7 187.5,440.9 189.5,440.8 191.5,440.9 193.5,440.8 195.5,440.6 197.5,440.8 199.5,440.7 201.6,440.7 203.6,441.0 205.6,440.8 207.6,440.9 209.6,441.2 211.6,441.1 213.6,441.2 215.7,441.1 217.7,440.7 219.7,440.8 221.7,440.7 223.7,441.1 225.7,441.0 227.7,440.9 229.8,440.9 231.8,441.1 233.8,441.1 235.8,440.8 237.8,441.2 239.8,440.9 241.8,441.0 243.9,440.8 245.9,440.7 247.9,441.2 249.9,441.1 251.9,441.1 253.9,440.7 255.9,440.7 258.0,440.8 260.0,440.8 262.0,440.9 264.0,441.0 265.4,434.2 267.4,434.1 269.4,434.0 271.4,434.1 273.4,434.4 275.4,434.1 277.4,434.5 279.4,434.4 281.4,434.5 283.4,434.2 285.4,434.4 287.4,434.5 289.4,434.3 291.4,434.2 293.4,434.7 295.4,434.7 297.4,434.4 299.4,434.3 301.4,434.8 303.4,434.6 305.4,434.3 307.4,434.5 309.4,434.4 311.4,434.8 313.4,434.5 315.4,434.9 317.4,434.9 319.4,434.5 321.4,434.9 323.4,434.7 325.4,434.9 327.5,435.0 329.5,434.7 331.5,434.6 333.5,435.1 335.5,434.8 337.5,435.2 339.5,435.0 341.5,435.1 343.5,435.2 345.5,435.1 347.5,435.0 349.5,434.8 351.5,435.2 353.5,435.0 355.5,435.1 357.5,435.4 359.5,434.9 361.5,435.3 363.5,434.9 365.5,435.3 367.5,435.4 369.5,435.1 371.5,435.3 373.5,435.5 375.5,435.4 377.5,435.3 379.5,435.2 381.5,435.1 383.5,435.3 385.5,435.3 387.5,435.4 390.0,400.0 392.0,392.1 394.0,391.9 396.1,392.0 398.1,391.9 400.2,392.2 402.2,392.2 404.2,391.9 406.3,391.9 408.3,392.1 410.4,392.0 412.4,392.3 414.4,392.0 416.5,391.9 418.5,392.3 420.6,391.8 422.6,392.1 424.6,392.0 426.7,392.2 428.7,392.1 430.8,392.2 432.8,391.8 434.8,392.1 436.9,392.1 438.9,392.0 440.9,392.2 443.0,392.2 445.0,391.8 447.1,391.9 449.1,391.9 451.1,391.8 453.2,391.8 455.2,391.9 457.3,391.8 459.3,392.1 461.3,392.0 463.4,391.8 465.4,391.9 467.5,392.0 469.5,392.0 471.0,443.0 474.0,446.5 476.0,446.4 478.0,446.2 480.0,446.0 482.0,445.9 484.0,446.5 486.0,446.3 488.0,445.8 490.0,446.1 492.0,446.2 494.0,445.9 496.0,445.5 498.0,445.7 500.0,445.6 502.0,445.4 504.0,445.5 506.0,445.2 508.0,445.6 510.0,445.4 512.0,445.3 514.0,445.4 516.0,445.2 518.0,444.9 520.0,444.8 522.0,444.7 524.0,444.6 526.0,445.0 528.0,444.9 530.0,444.5 532.0,444.4 534.0,444.6 536.0,444.7 538.0,444.7 540.0,444.1 542.0,444.4 544.0,444.4 546.0,444.3 548.0,444.0 550.0,444.0 553.0,395.0 556.0,390.6 558.0,390.2 560.0,390.5 562.0,390.0 564.0,389.9 566.0,389.8 568.0,389.5 570.0,389.7 572.0,389.1 574.0,388.9 576.0,389.0 578.0,388.9 580.0,388.8 582.0,388.6 584.0,388.6 586.0,388.4 588.0,388.0 590.0,387.8 592.0,387.4 594.0,387.4 596.0,387.4 598.0,386.9 600.0,387.0 605.0,350.0 610.0,336.4 612.0,336.5 614.0,336.2 616.0,336.3 618.0,336.6 620.0,336.0 622.0,336.0 624.0,336.2 626.0,336.0 628.0,336.3 630.0,335.9 632.0,336.4 634.0,336.4 636.0,336.3 638.0,336.1 640.0,335.9 642.0,336.2 644.0,336.0 646.0,336.0 648.0,335.9 650.0,335.9 652.0,336.0 654.0,336.1 656.0,336.1 658.0,335.7 660.0,335.7 662.0,335.8 664.0,335.9 666.0,335.7 668.0,335.6 670.0,335.5 672.0,335.6 674.0,335.7 676.0,336.0 678.0,335.9 680.0,335.9 682.0,335.9 684.0,335.9 686.0,335.7 688.0,335.8 690.0,335.3 692.0,335.6 694.0,335.5 697.0,370.0 702.0,389.7 704.0,389.8 706.0,389.6 708.0,389.8 710.0,390.0 712.1,389.7 714.1,389.8 716.1,389.6 718.1,389.7 720.1,390.0 722.1,389.5 724.1,389.6 726.1,389.9 728.1,389.8 730.1,389.6 732.2,389.9 734.2,389.8 736.2,389.9 738.2,389.8 740.2,389.9 742.2,389.9 744.2,389.8 746.2,389.6 748.2,389.7 750.2,390.1 752.3,389.9 754.3,389.7 756.3,390.1 758.3,389.8 760.3,389.7 762.3,390.0 764.3,389.8 766.3,390.0 768.3,390.0 770.3,389.8 772.4,390.0 774.4,389.8 776.4,390.0 778.4,390.1 780.4,389.8 782.4,390.0 784.4,389.8 786.4,390.0 788.4,390.3 790.4,390.1 792.5,390.2 794.5,390.2 796.5,389.9 798.5,390.4 800.5,390.1 803.5,431.6 805.5,431.7 807.6,431.4 809.6,431.8 811.6,431.5 813.7,431.4 815.7,431.9 817.7,431.6 819.8,431.7 821.8,431.4 823.8,431.7 825.9,431.3 827.9,431.4 829.9,431.5 832.0,431.3 834.0,431.6 836.0,431.4 838.1,431.4 840.1,431.7 842.1,431.5 844.2,431.8 846.2,431.6 848.2,431.8 850.3,431.6 852.3,431.8 854.4,431.8 856.4,431.3 858.4,431.7 860.5,431.4 862.5,431.7 864.5,431.6 866.6,431.7 868.6,431.3 870.6,431.4 872.7,431.7 874.7,431.8 876.7,431.7 878.8,431.2 880.8,431.6 882.8,431.3 884.9,431.5 886.9,431.7 888.9,431.3 891.0,431.8 893.0,431.5 897.0,442.0 899.0,442.1 901.0,441.9 903.0,441.8 905.1,442.0 907.1,442.2 909.1,442.1 911.1,441.8 913.1,441.7 915.1,441.8 917.2,442.2 919.2,441.8 921.2,442.0 923.2,441.9 925.2,442.1 927.2,441.9 929.2,441.8 931.3,442.2 933.3,442.0 935.3,442.1 937.3,442.2 939.3,442.3 941.3,441.7 943.4,441.9 945.4,441.8 947.4,442.0 949.4,442.3 951.4,442.2 953.4,441.8 955.4,441.8 957.5,442.2 959.5,442.2 961.5,442.0 963.5,442.0 965.5,441.8 967.5,442.3 969.5,442.0 971.6,442.3 973.6,442.1 975.6,441.8 977.6,442.0 979.6,441.9 981.6,442.3 983.7,442.1 985.7,441.8 987.7,441.9 989.7,442.0 991.7,442.0 993.7,442.1 995.7,442.0 997.8,442.0 999.8,441.8 1001.8,442.1 1003.8,442.0 1005.8,441.8 1007.8,442.1 1009.9,442.4 1011.9,441.8 1013.9,441.9 1015.9,442.2 1017.9,441.9 1019.9,441.9 1021.9,442.1 1024.0,441.9 1026.0,442.1 1028.0,442.1 1030.0,442.4 1032.0,442.4 1034.0,441.8 1036.1,442.1 1038.1,442.3 1040.1,442.3 1042.1,442.1 1044.1,442.9 1046.1,443.4 1048.1,444.0 1050.1,444.4 1052.1,445.0 1054.2,445.9 1056.2,446.5 1058.2,447.2 1060.2,447.6 1062.2,448.0 1064.2,448.7 1066.4,449.4 1068.6,449.9 1070.8,450.4 1073.0,451.0 1075.2,451.4 1077.4,452.0 1079.6,452.5 1081.8,453.1 1084.0,454.2 1086.2,455.8 1088.4,457.2 1090.7,458.9 1092.9,460.0 1095.1,461.3 1097.3,462.7 1099.5,464.2 1101.7,465.0 1103.9,466.1 1106.1,466.9 1108.3,467.8 1110.6,469.3 1112.8,470.0 1115.0,471.0 1117.2,472.1 1119.4,473.0 1121.5,473.8 1123.5,474.6 1125.6,475.5 1127.6,476.5 1129.7,477.4 1131.7,478.6 1133.8,479.4 1135.8,480.5 1137.9,481.1 1139.9,482.3 1142.0,483.0" fill="none" stroke="#0000ff" stroke-width="3.20" stroke-linejoin="round" stroke-linecap="butt"/>
<polyline points="121.0,359.0 123.0,359.1 125.0,358.8 127.0,358.8 129.1,359.1 131.1,359.3 133.1,359.0 135.1,359.2 137.1,359.0 139.1,359.3 141.1,358.8 143.2,359.1 145.2,359.3 147.2,359.0 149.2,359.0 151.2,358.8 153.2,358.9 155.2,359.0 157.3,359.3 159.3,359.0 161.3,359.1 163.3,359.0 165.3,359.2 167.3,359.4 169.3,359.3 171.4,359.0 173.4,359.4 175.4,359.5 177.4,359.3 179.4,359.0 181.4,359.4 183.4,359.5 185.5,359.2 187.5,359.1 189.5,359.1 191.5,359.3 193.5,359.5 195.5,359.4 197.5,359.6 199.5,359.2 201.6,359.2 203.6,359.5 205.6,359.4 207.6,359.3 209.6,359.5 211.6,359.3 213.6,359.1 215.7,359.3 217.7,359.1 219.7,359.5 221.7,359.3 223.7,359.4 225.7,359.5 227.7,359.3 229.8,359.4 231.8,359.2 233.8,359.7 235.8,359.5 237.8,359.8 239.8,359.2 241.8,359.6 243.9,359.6 245.9,359.4 247.9,359.3 249.9,359.3 251.9,359.3 253.9,359.7 255.9,359.3 258.0,359.8 260.0,359.5 262.0,359.6 264.0,359.6 267.5,351.4 269.5,351.3 271.5,351.2 273.6,351.2 275.6,351.0 277.6,350.7 279.6,350.9 281.7,350.5 283.7,350.6 285.7,350.4 287.7,350.6 289.8,350.7 291.8,350.4 293.8,350.8 295.8,350.9 297.9,350.7 299.9,350.6 301.9,350.8 303.9,351.1 306.0,350.7 308.0,350.7 310.0,351.0 312.0,351.1 314.1,351.3 316.1,351.1 318.1,351.5 320.1,351.1 322.2,351.5 324.2,351.1 326.2,351.1 328.2,351.2 330.3,351.2 332.3,351.6 334.3,351.6 336.4,351.5 338.4,352.0 340.4,351.7 342.4,351.6 344.5,351.7 346.5,352.0 348.5,352.2 350.5,351.8 352.6,351.8 354.6,352.3 356.6,352.0 358.6,352.5 360.7,352.2 362.7,352.4 364.7,352.3 366.7,352.6 368.8,352.4 370.8,352.4 372.8,352.8 374.8,352.4 376.9,352.8 378.9,352.4 380.9,352.8 382.9,352.7 385.0,353.1 387.0,352.9 390.0,330.0 396.5,313.0 398.5,312.8 400.6,313.1 402.6,313.0 404.6,313.4 406.6,313.4 408.7,313.2 410.7,313.0 412.7,313.1 414.8,313.1 416.8,313.2 418.8,313.1 420.8,313.2 422.9,313.5 424.9,313.5 426.9,313.3 428.9,313.7 431.0,313.3 433.0,313.5 435.0,313.3 437.1,313.8 439.1,313.8 441.1,313.5 443.1,313.8 445.2,313.9 447.2,313.6 449.2,313.6 451.2,313.7 453.3,314.0 455.3,313.6 457.3,313.9 459.4,313.9 461.4,313.9 463.4,314.0 465.4,314.2 467.5,313.8 469.5,314.0 471.2,355.0 474.0,361.5 478.0,362.5 480.0,362.7 482.0,362.3 484.0,362.5 486.0,362.4 488.0,362.0 490.0,362.3 492.0,362.3 494.0,361.8 496.0,361.6 498.0,361.6 500.0,362.0 502.0,361.4 504.0,361.8 506.0,361.3 508.0,361.6 510.0,361.1 512.0,361.1 514.0,361.4 516.0,360.9 518.0,361.0 520.0,361.3 522.0,361.1 524.0,361.1 526.0,361.1 528.0,360.5 530.0,360.5 532.0,360.8 534.0,360.7 536.0,360.2 538.0,360.4 540.0,360.2 542.0,360.2 544.0,360.0 546.0,359.9 548.0,360.4 550.0,360.0 553.0,320.0 556.0,310.7 558.0,310.5 560.0,310.8 562.0,310.3 564.0,310.4 566.0,310.2 568.0,310.3 570.0,310.1 572.0,310.3 574.0,309.9 576.0,310.2 578.0,310.0 580.0,309.7 582.0,309.8 584.0,309.8 586.0,310.0 588.0,309.6 590.0,309.4 592.0,309.8 594.0,309.7 596.0,309.6 598.0,309.2 600.0,309.3 603.0,290.0 606.0,262.1 608.0,261.8 610.0,261.7 612.0,261.4 614.0,261.2 616.0,261.4 618.0,261.1 620.0,261.1 622.0,260.8 624.0,260.5 626.0,260.7 628.0,260.5 630.0,260.3 632.0,260.4 634.0,260.5 636.0,260.6 638.0,260.9 640.0,260.9 642.0,260.9 644.0,260.8 646.0,260.8 648.0,261.0 650.0,261.4 652.0,261.1 654.0,261.2 656.0,261.3 658.0,261.2 660.0,261.8 662.0,261.3 664.0,261.7 666.0,262.0 668.0,261.6 670.0,261.9 672.0,261.9 674.0,261.9 676.0,261.9 678.0,261.9 680.0,262.5 682.0,262.5 684.0,262.7 686.0,262.2 688.0,262.7 690.0,262.5 692.0,262.8 694.0,262.8 697.0,290.0 700.0,316.0 702.0,316.0 704.0,315.8 706.0,316.2 708.0,315.5 710.0,315.9 712.1,316.0 714.1,315.7 716.1,315.7 718.1,315.9 720.1,315.4 722.1,315.6 724.1,315.7 726.1,315.4 728.1,315.6 730.1,315.3 732.2,315.4 734.2,315.4 736.2,315.4 738.2,315.1 740.2,315.3 742.2,315.2 744.2,315.0 746.2,315.1 748.2,314.9 750.2,315.2 752.3,314.9 754.3,315.1 756.3,314.9 758.3,314.8 760.3,314.6 762.3,314.5 764.3,315.0 766.3,314.7 768.3,314.7 770.4,314.6 772.4,314.7 774.4,314.4 776.4,314.3 778.4,314.6 780.4,314.4 782.4,314.4 784.4,314.5 786.4,314.5 788.4,314.5 790.5,313.9 792.5,314.1 794.5,314.3 796.5,314.3 798.5,313.8 800.5,314.0 804.0,350.3 806.0,350.1 808.0,350.2 810.0,350.1 812.0,350.3 814.0,350.6 816.0,350.5 818.0,350.4 820.0,350.2 822.0,350.5 824.0,350.8 826.0,350.7 828.0,350.6 830.0,350.6 832.0,350.8 834.0,350.8 836.0,350.5 838.0,350.8 840.0,350.7 842.0,350.8 844.0,350.6 846.0,350.7 848.0,350.7 850.0,350.8 852.0,350.6 854.0,350.7 856.0,351.0 858.0,350.7 860.0,350.8 862.0,351.1 864.0,350.9 866.0,351.0 868.0,350.9 870.0,351.3 872.0,350.9 874.0,351.2 876.0,351.4 878.0,351.0 880.0,351.2 882.0,351.4 884.0,351.3 886.0,351.2 888.0,351.1 890.0,351.3 892.0,351.3 894.0,351.4 895.5,358.0 898.0,361.3 900.0,361.4 902.0,361.1 904.0,361.1 906.0,361.2 908.0,361.3 910.0,361.0 912.0,361.0 914.0,361.0 916.0,361.2 918.0,360.7 920.0,361.2 922.0,361.0 924.0,360.7 926.0,360.9 928.0,360.6 930.0,360.4 932.0,360.8 934.0,360.5 936.0,360.6 938.0,360.5 940.0,360.7 942.0,360.6 944.0,360.1 946.0,360.4 948.0,360.3 950.0,360.3 952.0,360.5 954.0,360.2 956.0,360.2 958.0,360.4 960.0,360.1 962.0,360.1 964.0,360.0 966.0,360.2 968.0,360.1 970.0,360.1 972.0,359.8 974.0,359.6 976.0,359.9 978.0,359.8 980.0,359.9 982.0,359.9 984.0,359.4 986.0,359.5 988.0,359.3 990.0,359.7 992.0,359.3 994.0,359.2 996.0,359.6 998.0,359.4 1000.0,359.1 1002.0,359.4 1004.0,359.4 1006.0,359.2 1008.0,359.2 1010.0,359.3 1012.0,360.0 1014.0,360.2 1016.0,360.7 1018.0,361.2 1020.0,361.3 1022.1,361.3 1024.2,361.1 1026.3,360.4 1028.4,360.3 1030.5,360.2 1032.6,359.6 1034.7,359.7 1036.8,360.2 1038.9,360.0 1041.0,360.2 1043.1,360.4 1045.2,360.6 1047.3,360.9 1049.4,361.5 1051.5,361.6 1053.6,362.0 1055.7,362.3 1057.8,362.4 1059.9,362.9 1062.0,363.4 1064.1,363.9 1066.2,364.0 1068.3,364.3 1070.4,364.2 1072.6,364.4 1074.7,364.5 1076.8,365.1 1078.9,365.2 1081.0,365.5 1083.1,366.3 1085.2,367.1 1087.2,368.0 1089.3,368.7 1091.4,369.5 1093.5,370.6 1095.6,371.0 1097.7,372.3 1099.8,372.9 1101.9,373.2 1104.0,373.2 1106.1,373.7 1108.2,374.1 1110.3,374.4 1112.4,375.0 1114.5,375.8 1116.6,376.4 1118.7,377.0 1120.8,378.0 1122.9,378.4 1125.0,379.2 1127.1,380.0 1129.2,380.7 1131.4,381.2 1133.5,381.8 1135.6,382.8 1137.8,383.1 1139.9,384.1 1142.0,384.5" fill="none" stroke="#727000" stroke-width="3.20" stroke-linejoin="round" stroke-linecap="butt"/>
<polyline points="121.0,423.3 123.0,423.0 125.0,423.2 127.1,423.4 129.1,423.0 131.1,423.5 133.1,423.0 135.2,423.3 137.2,423.0 139.2,423.5 141.2,423.2 143.3,423.4 145.3,423.2 147.3,423.3 149.3,423.3 151.4,423.0 153.4,423.0 155.4,423.4 157.4,422.9 159.4,423.4 161.5,422.9 163.5,422.9 165.5,422.9 167.5,423.3 169.6,423.4 171.6,423.0 173.6,423.2 175.6,422.9 177.7,423.3 179.7,423.2 181.7,422.8 183.7,422.8 185.8,423.1 187.8,422.7 189.8,423.0 191.5,414.5 193.2,423.0 195.2,423.2 197.2,422.9 199.3,422.8 201.3,423.0 203.3,422.8 205.3,423.0 207.4,422.7 209.4,423.2 211.4,422.8 213.4,423.1 215.5,422.7 217.5,423.0 219.5,423.1 221.5,422.8 223.5,422.5 225.6,422.7 227.6,422.9 229.6,422.6 231.6,422.8 233.7,422.5 235.7,422.7 237.7,422.9 239.7,422.7 241.7,422.8 243.8,422.5 245.8,422.9 247.8,422.5 249.8,422.9 251.9,423.0 253.9,422.9 255.9,422.7 257.9,422.5 260.0,422.5 262.0,422.8 264.0,422.6 265.4,399.4 267.4,399.4 269.4,399.7 271.4,399.2 273.4,399.5 275.4,399.7 277.4,399.6 279.4,399.6 281.4,399.4 283.4,399.4 285.4,399.5 287.4,399.9 289.4,399.9 291.4,399.6 293.4,400.0 295.4,399.5 297.4,399.9 299.4,400.1 301.4,399.8 303.4,400.2 305.4,400.0 307.4,399.7 309.4,399.9 311.4,400.0 313.4,399.9 315.4,400.2 317.4,399.9 319.4,400.3 321.4,400.0 323.4,399.9 325.4,400.2 327.5,400.0 329.5,400.3 331.5,400.4 333.5,400.3 335.5,400.3 337.5,400.1 339.5,400.4 341.5,400.2 343.5,400.5 345.5,400.2 347.5,400.5 349.5,400.4 351.5,400.5 353.5,400.7 355.5,400.4 357.5,400.4 359.5,400.9 361.5,400.6 363.5,400.9 365.5,400.9 367.5,400.7 369.5,400.6 371.5,400.5 373.5,401.0 375.5,400.6 377.5,400.9 379.5,400.9 381.5,400.7 383.5,400.9 385.5,400.8 387.5,401.0 390.0,300.0 392.0,276.0 394.0,276.0 396.1,276.0 398.1,275.9 400.2,275.8 402.2,275.9 404.2,275.8 406.3,275.8 408.3,275.8 410.4,276.2 412.4,276.0 414.4,276.2 416.5,275.7 418.5,276.3 420.6,276.0 422.6,276.2 424.6,276.0 426.7,276.1 428.7,275.8 430.8,276.2 432.8,275.8 434.8,275.9 436.9,275.7 438.9,275.9 440.9,276.0 443.0,275.9 445.0,276.2 447.1,275.8 449.1,276.0 451.1,275.8 453.2,276.1 455.2,276.2 457.3,276.1 459.3,275.7 461.3,275.8 463.4,276.1 465.4,276.3 467.5,275.7 469.5,276.0 471.0,425.0 474.0,430.1 476.0,430.1 478.0,430.1 480.0,430.1 482.0,429.8 484.0,430.0 486.0,429.7 488.0,429.9 490.0,429.3 492.0,429.8 494.0,429.4 496.0,429.4 498.0,429.1 500.0,429.2 502.0,429.4 504.0,429.3 506.0,428.9 508.0,429.0 510.0,428.8 512.0,428.8 514.0,428.7 516.0,428.7 518.0,429.1 520.0,429.0 522.0,428.8 524.0,428.6 526.0,428.5 528.0,428.6 530.0,428.7 532.0,428.5 534.0,428.4 536.0,428.0 538.0,428.2 540.0,428.3 542.0,428.2 544.0,427.7 546.0,428.1 548.0,427.8 550.0,427.8 552.0,300.0 556.0,274.5 558.0,274.2 560.1,274.5 562.1,274.3 564.2,274.2 566.2,273.7 568.2,274.0 570.3,273.9 572.3,273.8 574.4,273.6 576.4,273.5 578.4,273.4 580.5,273.1 582.5,272.9 584.5,273.1 586.6,272.9 588.6,272.8 590.7,272.4 592.7,272.7 594.7,272.3 596.8,272.4 598.8,271.8 600.9,272.2 602.9,271.8 602.9,195.0 607.5,185.0 608.5,140.0 611.5,134.2 613.5,134.4 615.5,134.0 617.5,134.3 619.5,134.0 621.5,133.9 623.5,134.1 625.6,133.9 627.6,134.0 629.6,134.3 631.6,134.1 633.6,134.1 635.6,133.9 637.6,134.1 639.6,134.1 641.6,134.0 643.6,134.2 645.6,134.1 647.6,133.8 649.6,133.6 651.6,133.9 653.7,134.0 655.7,133.7 657.7,133.8 659.7,133.9 661.7,133.9 663.7,133.4 665.7,133.7 667.7,133.4 669.7,133.4 671.7,133.8 673.7,133.5 675.7,133.6 677.7,133.5 679.7,133.4 681.8,133.3 683.8,133.4 685.8,133.7 687.8,133.5 689.8,133.3 691.8,133.2 693.8,133.4 696.0,200.0 700.0,279.4 702.0,279.3 704.1,279.6 706.1,279.4 708.1,279.6 710.1,279.7 712.2,279.3 714.2,279.6 716.2,279.3 718.3,279.8 720.3,279.4 722.3,279.5 724.3,279.9 726.4,279.6 728.4,279.5 730.4,279.9 732.4,279.8 734.5,280.0 736.5,279.7 738.5,279.8 740.6,280.1 742.6,279.8 744.6,280.1 746.6,279.7 748.7,280.1 750.7,279.7 752.7,279.9 754.8,279.6 756.8,279.8 758.8,280.2 760.8,280.0 762.9,280.2 764.9,279.9 766.9,280.0 769.0,279.8 771.0,280.1 773.0,280.3 775.0,280.1 777.1,280.1 779.1,280.4 781.1,280.4 783.1,280.3 785.2,280.0 787.2,280.3 789.2,280.2 791.3,280.6 793.3,280.2 795.3,280.4 797.3,280.4 799.4,280.3 801.4,280.4 803.5,394.5 805.5,394.5 807.5,394.6 809.6,394.8 811.6,394.5 813.6,394.5 815.6,394.9 817.6,394.3 819.6,394.8 821.7,394.7 823.7,394.6 825.7,394.6 827.7,394.8 829.7,394.9 831.7,394.8 833.8,394.8 835.8,394.4 837.8,394.6 839.8,394.5 841.8,395.0 843.9,395.0 845.9,394.5 847.9,394.8 849.9,394.8 851.9,394.5 853.9,394.7 856.0,394.9 858.0,394.9 860.0,394.7 862.0,395.0 864.0,394.7 866.1,394.9 868.1,394.8 870.1,395.2 872.1,395.0 874.1,395.1 876.1,395.0 878.2,394.8 880.2,395.2 882.2,395.1 884.2,395.1 886.2,394.8 888.2,394.8 890.3,395.0 892.3,395.2 894.3,395.0 895.5,425.2 897.5,425.4 899.5,425.2 901.5,425.1 903.5,425.3 905.5,425.5 907.5,425.1 909.6,425.5 911.6,425.2 913.6,425.3 915.6,425.2 917.6,425.3 919.6,425.4 921.6,425.8 923.6,425.8 925.6,425.4 927.6,425.4 929.6,425.9 931.6,425.4 933.7,425.5 935.7,425.6 937.7,425.4 939.7,425.6 941.7,425.7 943.7,425.7 945.7,426.0 947.7,425.6 949.7,425.6 951.7,426.1 953.7,425.8 955.7,426.1 957.8,426.0 959.8,426.1 961.8,425.8 963.8,425.8 965.8,426.1 967.8,426.0 969.8,426.1 971.8,426.2 973.8,426.2 975.8,426.0 977.8,426.0 979.8,426.4 981.8,426.2 983.9,426.1 985.9,426.3 987.9,426.1 989.9,426.4 991.9,426.0 993.9,426.5 995.9,426.4 997.9,426.3 999.9,426.6 1001.9,426.3 1003.9,426.3 1005.9,426.2 1008.0,426.5 1010.0,426.6 1012.0,426.6 1014.0,426.5 1016.0,426.7 1018.0,426.3 1020.0,426.6 1022.0,426.5 1024.0,426.7 1026.0,426.9 1028.0,426.7 1030.0,426.7 1032.1,426.8 1034.1,426.5 1036.1,426.9 1038.1,426.7 1040.1,426.5 1042.1,426.6 1044.1,427.2 1046.1,428.2 1048.1,428.6 1050.1,429.2 1052.1,430.4 1054.2,430.9 1056.2,431.6 1058.2,432.4 1060.2,433.2 1062.2,433.5 1064.2,434.4 1066.4,435.0 1068.6,435.5 1070.8,436.4 1073.0,437.2 1075.2,438.0 1077.4,438.6 1079.6,439.3 1081.8,439.9 1084.0,441.3 1086.2,442.9 1088.4,444.2 1090.7,446.0 1092.9,447.4 1095.1,448.7 1097.3,450.2 1099.5,451.1 1101.7,452.7 1103.9,454.0 1106.1,455.1 1108.3,456.4 1110.5,457.9 1112.7,459.1 1114.9,460.3 1117.2,461.6 1119.4,462.7 1121.6,464.1 1123.8,464.9 1126.0,466.4 1128.0,468.1 1130.0,469.7 1132.0,471.2 1134.0,472.6 1136.0,474.0 1138.0,475.9 1140.0,477.6 1142.0,479.0" fill="none" stroke="#ff0000" stroke-width="3.20" stroke-linejoin="round" stroke-linecap="butt"/>
<polyline points="121.0,438.5 123.0,438.4 125.0,438.3 127.1,438.3 129.1,438.3 131.1,438.6 133.1,438.8 135.2,438.7 137.2,438.4 139.2,438.6 141.2,438.2 143.3,438.7 145.3,438.4 147.3,438.2 149.3,438.6 151.4,438.3 153.4,438.4 155.4,438.2 157.4,438.5 159.4,438.5 161.5,438.7 163.5,438.2 165.5,438.7 167.5,438.3 169.6,438.3 171.6,438.6 173.6,438.4 175.6,438.4 177.7,438.5 179.7,438.3 181.7,438.7 183.7,438.3 185.8,438.7 187.8,438.7 189.8,438.5 191.3,432.5 192.8,438.5 194.8,438.5 196.9,438.2 198.9,438.7 200.9,438.2 203.0,438.5 205.0,438.5 207.0,438.2 209.1,438.6 211.1,438.6 213.1,438.6 215.2,438.4 217.2,438.5 219.2,438.6 221.3,438.3 223.3,438.7 225.3,438.8 227.4,438.7 229.4,438.8 231.5,438.4 233.5,438.8 235.5,438.2 237.6,438.5 239.6,438.3 241.6,438.5 243.7,438.6 245.7,438.6 247.7,438.5 249.8,438.4 251.8,438.3 253.8,438.4 255.9,438.4 257.9,438.3 259.9,438.6 262.0,438.5 264.0,438.5 265.4,423.3 267.4,423.3 269.4,423.1 271.4,423.5 273.4,423.2 275.4,423.2 277.4,423.4 279.4,423.5 281.4,423.7 283.4,423.6 285.4,423.7 287.4,423.7 289.4,423.6 291.4,423.6 293.4,423.2 295.4,423.3 297.4,423.2 299.4,423.7 301.4,423.6 303.4,423.6 305.4,423.4 307.4,423.5 309.4,423.4 311.4,423.6 313.4,423.9 315.4,423.5 317.4,423.3 319.4,423.4 321.4,423.5 323.4,423.9 325.4,423.8 327.5,423.6 329.5,423.4 331.5,423.4 333.5,423.5 335.5,423.9 337.5,423.7 339.5,424.0 341.5,424.0 343.5,423.9 345.5,423.7 347.5,424.0 349.5,423.6 351.5,423.6 353.5,423.8 355.5,423.8 357.5,423.7 359.5,423.7 361.5,423.6 363.5,424.1 365.5,424.0 367.5,424.2 369.5,424.2 371.5,423.9 373.5,424.1 375.5,423.9 377.5,424.1 379.5,424.2 381.5,423.7 383.5,423.7 385.5,423.8 387.5,424.0 389.0,380.0 391.2,322.0 393.0,334.3 395.0,334.4 397.0,334.2 399.1,334.0 401.1,334.5 403.1,334.5 405.1,334.3 407.1,334.0 409.2,334.5 411.2,334.3 413.2,334.0 415.2,334.2 417.3,334.4 419.3,334.5 421.3,334.3 423.3,334.4 425.3,334.1 427.4,334.1 429.4,334.5 431.4,334.2 433.4,334.1 435.4,334.4 437.5,334.1 439.5,334.1 441.5,334.3 443.5,334.4 445.5,334.4 447.6,334.4 449.6,334.3 451.6,334.0 453.6,334.4 455.7,334.0 457.7,334.3 459.7,334.2 461.7,334.4 463.7,334.4 465.8,334.1 467.8,334.4 469.8,334.3 471.0,440.0 474.0,445.7 476.0,445.8 478.0,445.6 480.0,445.3 482.0,445.7 484.0,445.5 486.0,445.1 488.0,445.1 490.0,445.5 492.0,445.0 494.0,445.0 496.0,445.2 498.0,445.2 500.0,445.0 502.0,445.0 504.0,444.5 506.0,444.5 508.0,445.0 510.0,444.8 512.0,444.3 514.0,444.2 516.0,444.3 518.0,444.6 520.0,444.1 522.0,444.4 524.0,444.4 526.0,444.2 528.0,444.3 530.0,443.9 532.0,443.7 534.0,443.6 536.0,444.0 538.0,443.5 540.0,444.0 542.0,443.8 544.0,443.4 546.0,443.7 548.0,443.3 550.0,443.4 552.0,350.0 556.0,331.0 558.0,330.8 560.1,330.4 562.1,330.7 564.2,330.6 566.2,330.5 568.3,329.7 570.3,330.1 572.4,329.8 574.4,329.8 576.5,329.4 578.5,329.3 580.5,329.1 582.6,329.1 584.6,328.5 586.7,328.3 588.7,328.5 590.8,328.2 592.8,328.1 594.9,327.7 596.9,328.0 599.0,327.4 601.0,327.5 601.9,296.6 604.5,294.1 607.2,291.3 608.2,240.0 609.5,226.0 611.5,223.8 613.5,224.0 615.5,223.7 617.5,223.5 619.5,223.8 621.6,223.5 623.6,223.6 625.6,223.4 627.6,223.9 629.6,223.6 631.6,223.5 633.6,223.3 635.6,223.7 637.7,223.7 639.7,223.7 641.7,223.2 643.7,223.4 645.7,223.3 647.7,223.6 649.7,223.2 651.7,223.4 653.8,223.6 655.8,223.5 657.8,223.0 659.8,223.0 661.8,223.0 663.8,223.3 665.8,223.3 667.8,223.2 669.9,223.1 671.9,223.1 673.9,223.2 675.9,223.2 677.9,223.3 679.9,223.2 681.9,223.2 683.9,223.3 686.0,223.2 688.0,223.1 690.0,222.7 692.0,223.0 694.0,222.9 695.5,300.0 697.0,332.0 699.0,332.2 701.1,332.0 703.1,332.3 705.1,331.9 707.1,332.4 709.2,332.1 711.2,332.3 713.2,332.1 715.3,332.1 717.3,332.2 719.3,332.2 721.4,332.1 723.4,332.3 725.4,332.7 727.4,332.5 729.5,332.7 731.5,332.7 733.5,332.7 735.6,332.9 737.6,332.7 739.6,332.5 741.6,332.5 743.7,332.6 745.7,332.4 747.7,332.6 749.8,333.0 751.8,333.0 753.8,332.7 755.9,333.0 757.9,333.0 759.9,333.1 761.9,333.1 764.0,333.0 766.0,332.8 768.0,333.2 770.1,332.9 772.1,333.2 774.1,333.0 776.1,333.2 778.2,333.5 780.2,333.0 782.2,333.3 784.3,333.4 786.3,333.3 788.3,333.6 790.4,333.3 792.4,333.6 794.4,333.5 796.4,333.7 798.5,333.2 800.5,333.5 802.5,417.5 804.5,417.3 806.5,417.4 808.6,417.8 810.6,417.3 812.6,417.5 814.6,417.7 816.6,417.9 818.6,417.5 820.7,417.6 822.7,417.8 824.7,417.8 826.7,417.9 828.7,417.9 830.7,417.6 832.8,417.7 834.8,417.5 836.8,418.0 838.8,417.7 840.8,417.7 842.9,418.2 844.9,418.0 846.9,418.0 848.9,418.1 850.9,418.0 852.9,418.1 855.0,417.9 857.0,417.8 859.0,417.8 861.0,417.8 863.0,418.0 865.1,417.9 867.1,417.9 869.1,418.2 871.1,418.5 873.1,418.3 875.1,418.1 877.2,418.4 879.2,418.1 881.2,418.0 883.2,418.2 885.2,418.3 887.2,418.5 889.3,418.3 891.3,418.5 893.3,418.4 895.0,438.9 897.0,438.7 899.0,439.2 901.0,438.9 903.1,439.2 905.1,438.8 907.1,439.3 909.1,439.0 911.1,439.4 913.1,439.4 915.2,439.3 917.2,439.1 919.2,439.0 921.2,439.2 923.2,439.6 925.2,439.2 927.3,439.5 929.3,439.5 931.3,439.6 933.3,439.4 935.3,439.4 937.3,439.4 939.4,439.9 941.4,439.6 943.4,439.8 945.4,439.8 947.4,439.6 949.4,439.6 951.5,439.6 953.5,440.1 955.5,439.7 957.5,440.2 959.5,439.9 961.5,440.2 963.5,439.8 965.6,440.3 967.6,440.0 969.6,440.1 971.6,440.2 973.6,440.0 975.6,440.1 977.7,440.5 979.7,440.2 981.7,440.3 983.7,440.5 985.7,440.3 987.7,440.3 989.8,440.3 991.8,440.5 993.8,440.5 995.8,440.7 997.8,440.6 999.8,440.9 1001.9,440.4 1003.9,440.8 1005.9,441.0 1007.9,440.6 1009.9,440.5 1011.9,440.8 1014.0,440.7 1016.0,440.9 1018.0,441.1 1020.0,441.0 1022.2,440.6 1024.4,440.4 1026.7,440.4 1028.9,440.1 1031.1,439.9 1033.3,439.9 1035.5,440.4 1037.7,440.8 1039.9,441.3 1042.1,442.0 1044.3,442.6 1046.5,443.2 1048.7,444.3 1050.9,444.9 1053.1,445.4 1055.3,446.3 1057.6,447.5 1059.8,448.2 1062.0,449.2 1064.2,449.8 1066.4,450.6 1068.6,451.1 1070.8,451.2 1073.0,452.3 1075.2,452.6 1077.4,452.9 1079.6,453.5 1081.8,454.2 1084.0,456.2 1086.2,457.6 1088.5,459.3 1090.7,461.2 1092.9,463.1 1095.1,464.8 1097.3,465.9 1099.5,467.5 1101.7,468.5 1103.9,470.1 1106.1,471.5 1108.3,473.0 1110.5,474.2 1112.7,475.8 1114.9,477.0 1117.2,478.3 1119.4,480.2 1121.6,481.2 1123.8,482.4 1126.0,484.0 1128.0,485.3 1130.0,487.2 1132.0,488.7 1134.0,490.0 1136.0,491.8 1138.0,493.5 1140.0,495.0 1142.0,496.5" fill="none" stroke="#720000" stroke-width="3.20" stroke-linejoin="round" stroke-linecap="butt"/>
<polyline points="121.0,339.8 123.0,339.7 125.0,339.8 127.0,339.9 129.1,339.9 131.1,339.7 133.1,340.1 135.1,340.2 137.1,340.1 139.1,340.1 141.1,339.9 143.2,340.2 145.2,339.8 147.2,339.8 149.2,340.1 151.2,340.3 153.2,339.8 155.2,339.9 157.3,339.8 159.3,340.0 161.3,339.9 163.3,339.9 165.3,340.3 167.3,340.2 169.4,340.4 171.4,340.1 173.4,340.3 175.4,339.9 177.4,340.5 179.4,340.1 181.4,340.2 183.5,340.3 185.5,340.5 187.5,340.3 189.5,340.3 191.2,334.8 193.0,340.5 195.2,340.9 197.3,340.9 199.5,340.8 201.7,341.3 203.8,341.1 206.0,341.4 208.0,341.6 210.0,341.3 212.0,341.1 214.0,341.5 216.0,341.0 218.0,341.0 220.0,340.9 222.0,341.1 224.0,340.6 226.0,340.8 228.0,340.6 230.0,340.9 232.0,340.4 234.0,340.7 236.0,340.4 238.0,340.5 240.0,340.5 242.0,340.5 244.0,340.1 246.0,340.1 248.0,340.0 250.0,340.5 252.0,339.9 254.0,339.9 256.0,340.0 258.0,340.0 260.0,340.1 262.0,339.6 264.0,339.8 265.4,324.9 267.4,324.6 269.5,324.4 271.5,324.4 273.5,324.2 275.5,324.0 277.6,324.1 279.6,323.8 281.6,323.8 283.7,323.6 285.7,323.2 287.7,323.1 289.8,323.5 291.8,323.2 293.8,323.0 295.8,323.5 297.9,323.0 299.9,323.0 301.9,323.2 303.9,323.2 306.0,323.6 308.0,323.6 310.0,323.3 312.0,323.4 314.1,323.6 316.1,323.6 318.1,323.5 320.2,323.5 322.2,323.2 324.2,323.3 326.2,323.6 328.3,323.6 330.3,323.7 332.3,323.8 334.3,323.8 336.4,323.4 338.4,323.3 340.4,323.8 342.4,323.6 344.5,323.4 346.5,323.7 348.5,323.5 350.5,323.5 352.6,323.6 354.6,323.7 356.6,323.8 358.7,323.5 360.7,323.9 362.7,323.8 364.7,323.7 366.8,323.9 368.8,324.0 370.8,323.5 372.8,323.8 374.9,323.9 376.9,324.0 378.9,323.9 380.9,323.7 383.0,324.2 385.0,323.9 388.0,324.6 388.6,251.0 391.2,235.3 393.2,235.4 395.2,235.1 397.2,235.2 399.2,235.5 401.2,235.0 403.2,235.1 405.2,235.4 407.2,235.3 409.2,234.9 411.2,235.2 413.2,234.9 415.2,235.1 417.2,235.1 419.2,234.7 421.2,234.7 423.2,234.7 425.2,234.7 427.2,234.5 429.2,234.5 431.3,234.7 433.3,234.7 435.3,234.4 437.3,234.7 439.3,234.9 441.3,234.6 443.3,234.5 445.3,234.7 447.3,234.5 449.3,234.3 451.3,234.4 453.3,234.1 455.3,234.5 457.3,234.2 459.3,234.3 461.3,234.6 463.3,234.4 465.3,234.5 467.3,234.3 469.3,234.2 470.3,250.0 471.3,335.0 474.3,345.0 476.3,345.0 478.4,345.0 480.4,345.2 482.5,344.7 484.5,345.0 486.6,344.6 488.6,344.6 490.7,344.9 492.7,344.7 494.8,344.8 496.8,344.8 498.9,344.6 500.9,344.3 502.9,344.1 505.0,344.4 507.0,344.5 509.1,344.2 511.1,344.0 513.2,343.9 515.2,344.0 517.3,344.3 519.3,343.8 521.4,343.9 523.4,343.9 525.4,344.1 527.5,344.2 529.5,343.6 531.6,343.6 533.6,344.1 535.7,344.1 537.7,343.5 539.8,343.6 541.8,343.7 543.9,343.5 545.9,343.5 548.0,343.5 550.0,343.5 553.8,300.0 556.0,230.8 558.1,230.6 560.2,230.4 562.2,230.3 564.3,230.3 566.4,230.1 568.5,230.4 570.5,230.3 572.6,230.0 574.7,230.2 576.8,230.1 578.9,229.8 580.9,229.8 583.0,229.5 585.1,229.9 587.2,229.6 589.2,229.2 591.3,229.2 593.4,229.4 595.5,229.2 597.5,229.3 599.6,228.9 601.7,229.0 602.0,199.0 605.8,190.0 607.2,180.0 607.5,140.0 609.0,127.0 611.0,124.5 613.1,124.7 615.1,124.7 617.2,124.3 619.2,124.6 621.3,124.3 623.3,124.6 625.4,124.7 627.4,124.7 629.5,124.3 631.5,124.3 633.6,124.6 635.6,124.5 637.7,124.3 639.7,124.3 641.8,124.5 643.8,124.3 645.9,124.6 647.9,124.3 650.0,124.5 652.1,124.3 654.1,124.4 656.2,124.4 658.3,124.5 660.4,124.0 662.4,124.4 664.5,124.0 666.6,124.0 668.7,124.2 670.7,124.2 672.8,124.1 674.9,124.2 676.9,123.7 679.0,123.8 681.1,123.9 683.2,123.6 685.2,123.5 687.3,123.5 689.4,123.8 691.5,123.8 693.5,123.7 695.6,123.5 696.0,200.0 697.5,240.8 699.8,238.3 702.0,235.2 704.0,235.4 706.0,235.1 708.0,235.2 710.0,235.4 712.1,235.0 714.1,235.4 716.1,235.1 718.1,235.1 720.1,235.4 722.1,235.2 724.1,235.7 726.1,235.7 728.1,235.4 730.1,235.3 732.2,235.3 734.2,235.5 736.2,235.6 738.2,235.5 740.2,235.7 742.2,235.6 744.2,235.8 746.2,235.4 748.2,235.4 750.2,235.6 752.3,235.7 754.3,235.6 756.3,235.9 758.3,235.6 760.3,235.7 762.3,235.8 764.3,236.0 766.3,236.0 768.3,235.8 770.4,235.9 772.4,236.2 774.4,236.2 776.4,236.0 778.4,235.8 780.4,236.0 782.4,236.1 784.4,235.9 786.4,235.8 788.4,236.4 790.5,236.4 792.5,235.9 794.5,236.1 796.5,236.3 798.5,236.2 801.5,270.0 803.5,305.0 806.0,319.0 808.0,318.9 810.0,318.9 812.0,319.4 814.0,319.4 816.0,319.3 818.0,319.2 820.0,319.4 822.0,319.3 824.0,319.9 826.0,319.4 828.0,319.6 830.0,320.0 832.0,319.7 834.0,319.7 836.0,319.8 838.0,319.9 840.0,320.2 842.0,320.4 844.0,320.1 846.0,320.2 848.0,320.6 850.0,320.5 852.0,320.5 854.0,320.5 856.1,320.4 858.1,320.5 860.1,321.0 862.1,320.5 864.2,320.6 866.2,321.0 868.2,321.1 870.2,321.2 872.2,320.9 874.3,321.3 876.3,321.1 878.3,320.9 880.3,321.1 882.4,321.3 884.4,321.3 886.4,321.0 888.4,321.1 890.5,321.6 892.5,321.1 894.5,321.4 896.0,340.0 899.0,343.4 901.0,343.5 903.0,343.2 905.1,343.1 907.1,343.1 909.1,343.2 911.1,343.5 913.1,342.9 915.1,343.3 917.2,342.9 919.2,342.8 921.2,343.1 923.2,342.8 925.2,342.7 927.3,342.8 929.3,343.0 931.3,343.0 933.3,342.8 935.3,342.4 937.4,342.8 939.4,342.7 941.4,342.8 943.4,342.8 945.4,342.4 947.4,342.7 949.5,342.6 951.5,342.2 953.5,342.3 955.5,342.2 957.5,342.2 959.6,342.2 961.6,342.0 963.6,342.0 965.6,342.4 967.6,342.0 969.6,342.1 971.7,342.2 973.7,342.1 975.7,341.8 977.7,342.1 979.7,342.0 981.8,342.1 983.8,341.9 985.8,341.9 987.8,341.9 989.8,341.5 991.9,341.7 993.9,341.5 995.9,341.7 997.9,341.3 999.9,341.5 1001.9,341.3 1004.0,341.6 1006.0,341.2 1008.0,341.3 1010.0,342.0 1012.0,342.6 1014.0,343.1 1016.0,343.2 1018.0,344.2 1020.0,344.5 1022.1,344.3 1024.2,344.0 1026.3,343.7 1028.4,343.0 1030.5,343.2 1032.6,342.7 1034.7,342.4 1036.8,342.6 1038.9,342.7 1041.0,343.2 1043.1,343.4 1045.2,343.5 1047.3,344.2 1049.4,344.4 1051.5,345.0 1053.6,345.4 1055.7,345.9 1057.8,346.5 1059.9,346.9 1062.0,347.7 1064.1,348.4 1066.2,348.6 1068.3,349.0 1070.4,349.5 1072.5,350.5 1074.6,350.7 1076.7,351.4 1078.8,351.9 1080.9,352.9 1083.0,354.2 1085.1,355.3 1087.2,356.0 1089.3,357.2 1091.4,358.4 1093.5,359.2 1095.6,360.4 1097.7,361.8 1099.8,362.9 1101.9,363.8 1104.0,365.4 1106.1,366.4 1108.2,367.3 1110.3,368.7 1112.4,369.8 1114.5,371.0 1116.6,371.8 1118.7,372.9 1120.8,373.9 1122.9,375.2 1125.0,376.0 1127.1,377.2 1129.2,377.9 1131.4,379.1 1133.5,380.2 1135.6,381.6 1137.8,382.5 1139.9,383.2 1142.0,384.5" fill="none" stroke="#00ffff" stroke-width="3.20" stroke-linejoin="round" stroke-linecap="butt"/>
<polyline points="121.2,124.3 126.0,122.9 131.5,121.8 136.3,125.7 141.1,120.9 144.5,122.2 147.9,116.1 151.0,109.9 154.8,112.6 160.3,122.9 164.4,121.8 169.2,111.3 174.0,121.6 178.8,124.3 182.2,122.9 187.0,124.3 192.5,120.5 197.3,122.9 202.8,123.2 206.9,125.4 215.2,123.2 220.7,125.7 224.8,125.4 230.3,122.9 235.1,124.3 239.2,127.7 243.3,126.4 248.1,128.4 252.2,127.3 257.7,124.0 262.5,126.4 265.9,135.3 268.1,141.5 270.8,156.2 273.4,159.3 276.0,161.9 280.5,129.4 284.4,159.3 285.5,161.4 289.1,159.3 294.9,163.5 299.6,152.0 303.8,125.7 307.0,141.5 308.5,160.9 313.3,163.0 320.6,160.4 327.4,163.5 336.4,158.3 341.6,158.8 345.8,162.5 351.0,159.3 360.0,161.9 364.7,160.4 368.4,153.0 373.6,158.3 379.4,159.3 385.7,161.4 387.4,167.0 388.5,200.0 390.3,235.0 393.0,299.0 396.5,320.2 405.0,321.5 415.0,322.5 425.0,322.0 435.0,321.0 444.0,320.5 447.8,294.6 451.5,315.0 453.0,321.0 466.0,321.0 467.5,300.0 469.2,200.0 469.7,104.9 473.6,115.0 475.9,124.3 480.5,115.0 486.0,124.3 490.6,122.0 504.5,122.7 508.4,98.0 512.6,124.3 523.1,121.2 535.5,122.0 540.9,98.7 545.5,122.0 548.6,104.2 550.9,115.0 551.7,189.3 552.5,300.0 555.0,321.3 560.0,321.5 563.9,311.6 567.0,321.5 580.0,322.0 601.0,322.2 603.0,340.0 606.0,420.0 609.8,447.2 610.7,457.8 616.0,466.6 619.6,483.4 630.0,483.0 640.0,485.5 645.0,482.0 650.0,485.5 660.0,484.0 670.8,483.0 675.3,468.4 679.0,483.0 690.0,483.0 693.8,485.0 696.0,300.0 697.5,182.6 699.0,182.6 700.5,240.0 702.6,299.0 707.6,312.8 717.3,310.3 721.1,310.5 730.8,313.7 748.3,312.3 766.7,311.3 777.3,313.7 786.0,310.3 795.7,312.8 797.2,299.7 800.0,245.0 802.0,220.0 804.9,168.8 810.2,126.2 814.6,162.6 819.0,167.9 824.4,158.1 832.7,167.9 847.5,158.1 852.0,167.0 860.0,166.3 870.2,166.3 874.7,164.0 879.8,164.0 884.0,149.3 887.1,158.9 889.2,168.5 891.6,152.1 892.2,136.3 893.3,125.0 902.9,125.0 907.5,122.8 913.1,125.6 925.5,126.2 931.2,103.0 935.5,114.3 939.7,106.4 949.3,124.5 965.1,124.5 969.6,121.6 976.4,120.5 981.8,98.5 986.0,125.6 991.1,121.6 996.2,127.9 1000.0,124.4 1004.4,122.3 1010.0,125.6 1012.5,123.8 1016.3,124.0 1018.8,125.6 1024.4,125.4 1027.5,123.5 1036.3,123.1 1038.8,117.5 1041.9,106.3 1043.8,110.6 1046.9,124.4 1051.3,115.6 1053.8,118.8 1056.9,125.6 1060.0,123.1 1065.0,121.9 1069.4,124.4 1075.0,121.9 1079.4,125.6 1083.8,121.9 1090.0,123.1 1097.5,122.3 1110.0,121.9 1111.3,120.6 1117.5,123.1 1121.3,123.1 1125.6,117.5 1130.0,121.9 1135.0,121.3 1141.3,119.8" fill="none" stroke="#7200ff" stroke-width="3.20" stroke-linejoin="round" stroke-linecap="butt"/>
<line x1="272.2" y1="56.6" x2="272.2" y2="166.5" stroke="#ff6c00" stroke-width="2.2" stroke-dasharray="9.5 7.8" stroke-dashoffset="4.3"/>
<line x1="388.0" y1="59.0" x2="388.0" y2="166.0" stroke="#ff6c00" stroke-width="2.2" stroke-dasharray="9.3 7.6" stroke-dashoffset="3.2"/>
<line x1="467.8" y1="56.6" x2="467.8" y2="165.0" stroke="#ff6c00" stroke-width="2.2" stroke-dasharray="9 7.6" stroke-dashoffset="0.0"/>
<line x1="550.9" y1="56.6" x2="550.9" y2="165.0" stroke="#ff6c00" stroke-width="2.2" stroke-dasharray="9 7.6" stroke-dashoffset="1.2"/>
<line x1="606.6" y1="56.6" x2="606.6" y2="318.0" stroke="#ff6c00" stroke-width="2.2" stroke-dasharray="9 7.6" stroke-dashoffset="0.0"/>
<line x1="698.9" y1="55.9" x2="698.9" y2="320.0" stroke="#ff6c00" stroke-width="2.2" stroke-dasharray="9 7.6" stroke-dashoffset="0.0"/>
<line x1="797.3" y1="54.1" x2="797.3" y2="318.0" stroke="#ff6c00" stroke-width="2.2" stroke-dasharray="9 7.6" stroke-dashoffset="0.0"/>
<line x1="891.8" y1="58.2" x2="891.8" y2="166.8" stroke="#ff6c00" stroke-width="2.2" stroke-dasharray="9 7.6" stroke-dashoffset="0.0"/>
<line x1="1027.2" y1="115.9" x2="1027.2" y2="617.4" stroke="#ff6c00" stroke-width="2.2" stroke-dasharray="9 7.4" stroke-dashoffset="0.0"/>
<g stroke="#000" stroke-width="2.5" fill="none" stroke-linecap="square">
<line x1="120.4" y1="12.7" x2="120.4" y2="766.7"/>
<line x1="1142.5" y1="12.7" x2="1142.5" y2="766.7"/>
<line x1="120.4" y1="766.7" x2="1142.5" y2="766.7"/>
</g>
<g stroke="#000" stroke-width="2.3" fill="none">
<line x1="106" y1="12.7" x2="120.4" y2="12.7"/>
<line x1="1128.5" y1="12.7" x2="1142.5" y2="12.7"/>
<line x1="106" y1="138.4" x2="120.4" y2="138.4"/>
<line x1="1128.5" y1="138.4" x2="1142.5" y2="138.4"/>
<line x1="106" y1="264.0" x2="120.4" y2="264.0"/>
<line x1="1128.5" y1="264.0" x2="1142.5" y2="264.0"/>
<line x1="106" y1="389.7" x2="120.4" y2="389.7"/>
<line x1="1128.5" y1="389.7" x2="1142.5" y2="389.7"/>
<line x1="106" y1="515.4" x2="120.4" y2="515.4"/>
<line x1="1128.5" y1="515.4" x2="1142.5" y2="515.4"/>
<line x1="106" y1="641.0" x2="120.4" y2="641.0"/>
<line x1="1128.5" y1="641.0" x2="1142.5" y2="641.0"/>
<line x1="106" y1="766.7" x2="120.4" y2="766.7"/>
<line x1="1128.5" y1="766.7" x2="1142.5" y2="766.7"/>
<line x1="113.4" y1="75.5" x2="120.4" y2="75.5"/>
<line x1="1135.5" y1="75.5" x2="1142.5" y2="75.5"/>
<line x1="113.4" y1="201.2" x2="120.4" y2="201.2"/>
<line x1="1135.5" y1="201.2" x2="1142.5" y2="201.2"/>
<line x1="113.4" y1="326.9" x2="120.4" y2="326.9"/>
<line x1="1135.5" y1="326.9" x2="1142.5" y2="326.9"/>
<line x1="113.4" y1="452.5" x2="120.4" y2="452.5"/>
<line x1="1135.5" y1="452.5" x2="1142.5" y2="452.5"/>
<line x1="113.4" y1="578.2" x2="120.4" y2="578.2"/>
<line x1="1135.5" y1="578.2" x2="1142.5" y2="578.2"/>
<line x1="113.4" y1="703.9" x2="120.4" y2="703.9"/>
<line x1="1135.5" y1="703.9" x2="1142.5" y2="703.9"/>
<line x1="120.4" y1="766.7" x2="120.4" y2="781"/>
<line x1="352.7" y1="766.7" x2="352.7" y2="781"/>
<line x1="585.0" y1="766.7" x2="585.0" y2="781"/>
<line x1="817.2" y1="766.7" x2="817.2" y2="781"/>
<line x1="1049.5" y1="766.7" x2="1049.5" y2="781"/>
<line x1="236.5" y1="766.7" x2="236.5" y2="774"/>
<line x1="468.8" y1="766.7" x2="468.8" y2="774"/>
<line x1="701.1" y1="766.7" x2="701.1" y2="774"/>
<line x1="933.4" y1="766.7" x2="933.4" y2="774"/>
</g>
<text x="95.80" y="19.40" font-family="Liberation Sans, sans-serif" font-weight="bold" font-size="26.00" fill="#000" text-anchor="end">750</text>
<text x="95.80" y="145.07" font-family="Liberation Sans, sans-serif" font-weight="bold" font-size="26.00" fill="#000" text-anchor="end">745</text>
<text x="95.80" y="270.73" font-family="Liberation Sans, sans-serif" font-weight="bold" font-size="26.00" fill="#000" text-anchor="end">740</text>
<text x="95.80" y="396.40" font-family="Liberation Sans, sans-serif" font-weight="bold" font-size="26.00" fill="#000" text-anchor="end">735</text>
<text x="95.80" y="522.07" font-family="Liberation Sans, sans-serif" font-weight="bold" font-size="26.00" fill="#000" text-anchor="end">730</text>
<text x="95.80" y="647.73" font-family="Liberation Sans, sans-serif" font-weight="bold" font-size="26.00" fill="#000" text-anchor="end">725</text>
<text x="95.80" y="773.40" font-family="Liberation Sans, sans-serif" font-weight="bold" font-size="26.00" fill="#000" text-anchor="end">720</text>
<text x="1157.60" y="19.30" font-family="Liberation Sans, sans-serif" font-weight="bold" font-size="26.00" fill="#000">1.2</text>
<text x="1157.60" y="144.97" font-family="Liberation Sans, sans-serif" font-weight="bold" font-size="26.00" fill="#000">1.0</text>
<text x="1157.60" y="270.63" font-family="Liberation Sans, sans-serif" font-weight="bold" font-size="26.00" fill="#000">0.8</text>
<text x="1157.60" y="396.30" font-family="Liberation Sans, sans-serif" font-weight="bold" font-size="26.00" fill="#000">0.6</text>
<text x="1157.60" y="521.97" font-family="Liberation Sans, sans-serif" font-weight="bold" font-size="26.00" fill="#000">0.4</text>
<text x="1157.60" y="647.63" font-family="Liberation Sans, sans-serif" font-weight="bold" font-size="26.00" fill="#000">0.2</text>
<text x="1157.60" y="773.30" font-family="Liberation Sans, sans-serif" font-weight="bold" font-size="26.00" fill="#000">0.0</text>
<text x="120.40" y="809.50" font-family="Liberation Sans, sans-serif" font-weight="bold" font-size="26.00" fill="#000" text-anchor="middle">9000</text>
<text x="352.68" y="809.50" font-family="Liberation Sans, sans-serif" font-weight="bold" font-size="26.00" fill="#000" text-anchor="middle">9500</text>
<text x="584.95" y="809.50" font-family="Liberation Sans, sans-serif" font-weight="bold" font-size="26.00" fill="#000" text-anchor="middle">10000</text>
<text x="817.23" y="809.50" font-family="Liberation Sans, sans-serif" font-weight="bold" font-size="26.00" fill="#000" text-anchor="middle">10500</text>
<text x="1049.50" y="809.50" font-family="Liberation Sans, sans-serif" font-weight="bold" font-size="26.00" fill="#000" text-anchor="middle">11000</text>
<text transform="translate(41.5,520.2) rotate(-90) scale(0.986,1)" font-family="Liberation Sans, sans-serif" font-weight="bold" font-size="37">Temperature (°C)</text>
<text transform="translate(1230.2,483.9) rotate(-90) scale(0.995,1)" font-family="Liberation Sans, sans-serif" font-weight="bold" font-size="37">Voltage (V)</text>
<text transform="translate(492.90,849.20) scale(0.988,1)" font-family="Liberation Sans, sans-serif" font-weight="bold" font-size="37.00" fill="#000">Sampling (every 3s)</text>
<text x="156.90" y="64.20" font-family="Liberation Serif, serif" font-weight="bold" font-size="26.00" fill="#000">OCV</text>
<text x="474.60" y="65.20" font-family="Liberation Serif, serif" font-weight="bold" font-size="26.00" fill="#000">OCV</text>
<text x="989.60" y="66.20" font-family="Liberation Serif, serif" font-weight="bold" font-size="26.00" fill="#000">OCV</text>
<text x="305.20" y="70.00" font-family="Liberation Serif, serif" font-weight="bold" font-size="30.00" fill="#000">E</text>
<text x="409.50" y="69.30" font-family="Liberation Serif, serif" font-weight="bold" font-size="30.00" fill="#000">E</text>
<text x="552.00" y="70.20" font-family="Liberation Serif, serif" font-weight="bold" font-size="30.00" fill="#000">E</text>
<text x="628.60" y="69.50" font-family="Liberation Serif, serif" font-weight="bold" font-size="30.00" fill="#000">E</text>
<text x="725.00" y="70.10" font-family="Liberation Serif, serif" font-weight="bold" font-size="30.00" fill="#000">E</text>
<text x="821.20" y="70.40" font-family="Liberation Serif, serif" font-weight="bold" font-size="30.00" fill="#000">E</text>
<text transform="translate(325.00,79.90) scale(1.020,1)" font-family="Liberation Serif, serif" font-weight="bold" font-size="16.50" fill="#000">cell</text>
<text transform="translate(429.50,80.30) scale(1.020,1)" font-family="Liberation Serif, serif" font-weight="bold" font-size="16.50" fill="#000">cell</text>
<text transform="translate(571.50,79.90) scale(1.020,1)" font-family="Liberation Serif, serif" font-weight="bold" font-size="16.50" fill="#000">cell</text>
<text transform="translate(648.00,79.90) scale(1.020,1)" font-family="Liberation Serif, serif" font-weight="bold" font-size="16.50" fill="#000">cell</text>
<text transform="translate(744.90,79.80) scale(1.020,1)" font-family="Liberation Serif, serif" font-weight="bold" font-size="16.50" fill="#000">cell</text>
<text transform="translate(841.20,81.00) scale(1.020,1)" font-family="Liberation Serif, serif" font-weight="bold" font-size="16.50" fill="#000">cell</text>
<text transform="translate(294.70,108.90) scale(1.020,1)" font-family="Liberation Serif, serif" font-weight="bold" font-size="22.50" fill="#000">5 mA</text>
<text transform="translate(392.80,111.30) scale(1.020,1)" font-family="Liberation Serif, serif" font-weight="bold" font-size="22.50" fill="#000">25 mA</text>
<text transform="translate(551.70,112.90) scale(1.020,1)" font-family="Liberation Serif, serif" font-weight="bold" font-size="22.50" fill="#000">25 mA</text>
<text transform="translate(621.50,112.90) scale(1.020,1)" font-family="Liberation Serif, serif" font-weight="bold" font-size="22.50" fill="#000">50 mA</text>
<text transform="translate(713.60,114.70) scale(1.020,1)" font-family="Liberation Serif, serif" font-weight="bold" font-size="22.50" fill="#000">25 mA</text>
<text transform="translate(815.20,114.20) scale(1.020,1)" font-family="Liberation Serif, serif" font-weight="bold" font-size="22.50" fill="#000">5 mA</text>
<text x="169.60" y="240.20" font-family="Liberation Serif, serif" font-weight="bold" font-size="29.00" fill="#000">TC</text>
<line x1="220.6" y1="216.0" x2="220.6" y2="236.9" stroke="#000000" stroke-width="1.7"/><polygon points="220.6,254.4 216.1,236.9 225.1,236.9" fill="#000000"/>
<text x="163.30" y="322.20" font-family="Liberation Serif, serif" font-weight="bold" font-size="28.50" fill="#000">S9</text>
<line x1="205.4" y1="298.0" x2="205.4" y2="319.4" stroke="#00ffff" stroke-width="1.7"/><polygon points="205.4,336.9 200.9,319.4 209.9,319.4" fill="#00ffff"/>
<text x="170.00" y="403.90" font-family="Liberation Serif, serif" font-weight="bold" font-size="28.50" fill="#000">S3</text>
<line x1="213.0" y1="380.2" x2="213.0" y2="399.5" stroke="#007000" stroke-width="1.7"/><polygon points="213.0,417.0 208.5,399.5 217.5,399.5" fill="#007000"/>
<text x="168.00" y="477.20" font-family="Liberation Serif, serif" font-weight="bold" font-size="28.50" fill="#000">S2</text>
<line x1="204.2" y1="449.1" x2="204.2" y2="468.9" stroke="#ff7000" stroke-width="1.7"/><polygon points="204.2,486.4 199.7,468.9 208.7,468.9" fill="#ff7000"/>
<text x="191.10" y="567.20" font-family="Liberation Serif, serif" font-weight="bold" font-size="28.50" fill="#000">S1</text>
<line x1="234.1" y1="543.3" x2="234.1" y2="563.3" stroke="#ff00ff" stroke-width="1.7"/><polygon points="234.1,580.8 229.6,563.3 238.6,563.3" fill="#ff00ff"/>
<text x="404.40" y="433.00" font-family="Liberation Serif, serif" font-weight="bold" font-size="28.50" fill="#000">S5</text>
<line x1="443.4" y1="433.6" x2="443.4" y2="413.3" stroke="#0000ff" stroke-width="1.7"/><polygon points="443.4,395.8 438.9,413.3 447.9,413.3" fill="#0000ff"/>
<text x="729.30" y="374.40" font-family="Liberation Serif, serif" font-weight="bold" font-size="28.50" fill="#000">S8</text>
<line x1="767.8" y1="375.9" x2="767.8" y2="355.8" stroke="#720000" stroke-width="1.7"/><polygon points="767.8,338.3 763.3,355.8 772.3,355.8" fill="#720000"/>
<text x="817.10" y="382.00" font-family="Liberation Serif, serif" font-weight="bold" font-size="28.50" fill="#000">S7</text>
<line x1="852.3" y1="358.4" x2="852.3" y2="376.3" stroke="#ff0000" stroke-width="1.7"/><polygon points="852.3,393.8 847.8,376.3 856.8,376.3" fill="#ff0000"/>
<text x="950.20" y="403.00" font-family="Liberation Serif, serif" font-weight="bold" font-size="28.50" fill="#000">S6</text>
<line x1="989.2" y1="403.3" x2="989.2" y2="384.0" stroke="#727000" stroke-width="1.7"/><polygon points="989.2,366.5 984.7,384.0 993.7,384.0" fill="#727000"/>
<text x="805.00" y="531.90" font-family="Liberation Serif, serif" font-weight="bold" font-size="28.50" fill="#000">S4</text>
<line x1="838.1" y1="532.2" x2="838.1" y2="512.5" stroke="#00ff00" stroke-width="1.7"/><polygon points="838.1,495.0 833.6,512.5 842.6,512.5" fill="#00ff00"/>
<text transform="translate(854.40,703.00) scale(1.031,1)" font-family="Liberation Serif, serif" font-weight="bold" font-size="27.30" fill="#000">Cooling started</text>
<line x1="1001.9" y1="676.0" x2="1020.4" y2="630.6" stroke="#000" stroke-width="1.5"/>
<polygon points="1026.8,614.9 1024.8,632.5 1015.9,628.8" fill="#000"/>
<rect x="1.7" y="865" width="1220.8" height="38.8" fill="none" stroke="#444" stroke-width="1.6" rx="1.5"/>
<line x1="3.2" y1="884.9" x2="65.0" y2="884.9" stroke="#000000" stroke-width="3.4"/>
<line x1="105.7" y1="884.9" x2="168.1" y2="884.9" stroke="#ff00ff" stroke-width="3.4"/>
<line x1="208.0" y1="884.9" x2="269.9" y2="884.9" stroke="#ff7000" stroke-width="3.4"/>
<line x1="308.7" y1="884.9" x2="371.2" y2="884.9" stroke="#007000" stroke-width="3.4"/>
<line x1="411.9" y1="884.9" x2="472.9" y2="884.9" stroke="#00ff00" stroke-width="3.4"/>
<line x1="512.9" y1="884.9" x2="574.6" y2="884.9" stroke="#0000ff" stroke-width="3.4"/>
<line x1="615.3" y1="884.9" x2="676.3" y2="884.9" stroke="#727000" stroke-width="3.4"/>
<line x1="715.9" y1="884.9" x2="778.0" y2="884.9" stroke="#ff0000" stroke-width="3.4"/>
<line x1="816.3" y1="884.9" x2="880.2" y2="884.9" stroke="#720000" stroke-width="3.4"/>
<line x1="920.4" y1="884.9" x2="981.6" y2="884.9" stroke="#00ffff" stroke-width="3.4"/>
<line x1="1021.9" y1="884.9" x2="1083.1" y2="884.9" stroke="#7200ff" stroke-width="3.4"/>
<text x="71.27" y="892.90" font-family="Liberation Serif, serif" font-weight="bold" font-size="26.50" fill="#000">TC</text>
<text x="172.28" y="892.90" font-family="Liberation Serif, serif" font-weight="bold" font-size="26.50" fill="#000">S1</text>
<text x="274.08" y="892.90" font-family="Liberation Serif, serif" font-weight="bold" font-size="26.50" fill="#000">S2</text>
<text x="375.98" y="892.90" font-family="Liberation Serif, serif" font-weight="bold" font-size="26.50" fill="#000">S3</text>
<text x="477.58" y="892.90" font-family="Liberation Serif, serif" font-weight="bold" font-size="26.50" fill="#000">S4</text>
<text x="579.27" y="892.90" font-family="Liberation Serif, serif" font-weight="bold" font-size="26.50" fill="#000">S5</text>
<text x="680.37" y="892.90" font-family="Liberation Serif, serif" font-weight="bold" font-size="26.50" fill="#000">S6</text>
<text x="781.97" y="892.90" font-family="Liberation Serif, serif" font-weight="bold" font-size="26.50" fill="#000">S7</text>
<text x="884.97" y="892.90" font-family="Liberation Serif, serif" font-weight="bold" font-size="26.50" fill="#000">S8</text>
<text x="985.37" y="892.90" font-family="Liberation Serif, serif" font-weight="bold" font-size="26.50" fill="#000">S9</text>
<text transform="translate(1088.83,892.90) scale(1.020,1)" font-family="Liberation Serif, serif" font-weight="bold" font-size="26.50" fill="#000">Voltage (V)</text>
</svg>
</body></html>
